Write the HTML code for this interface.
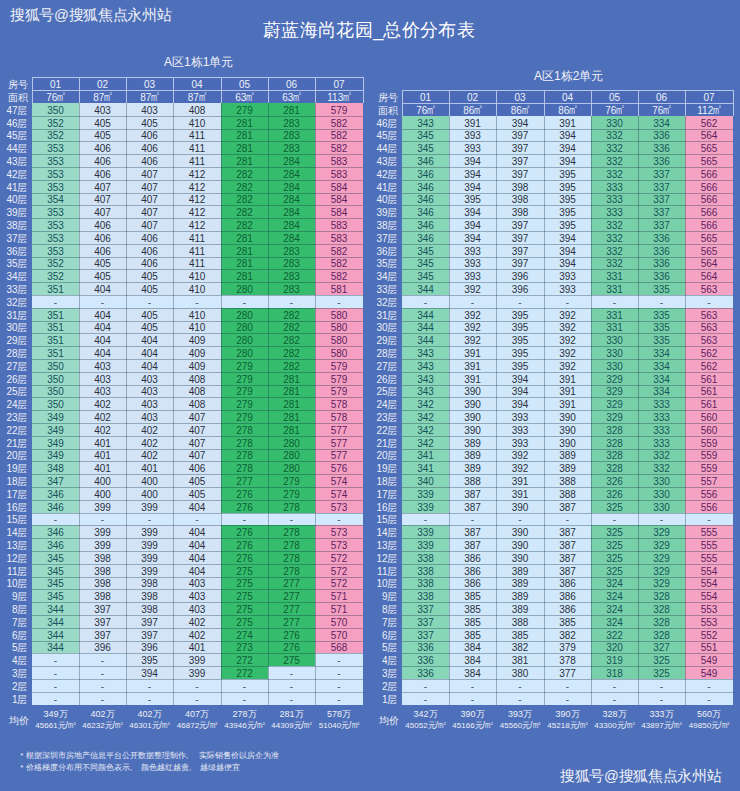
<!DOCTYPE html>
<html><head><meta charset="utf-8"><style>
html,body{margin:0;padding:0;}
body{width:740px;height:791px;overflow:hidden;position:relative;background:#4e6fb9;font-family:"Liberation Sans",sans-serif;}
div{position:absolute;box-sizing:border-box;white-space:nowrap;}
.wm{color:#f0f2f8;font-size:14.5px;}
.title{color:#ffffff;font-size:18.5px;left:0;width:740px;text-align:center;}
.sub{color:#f0f2f8;font-size:11.4px;text-align:center;}
.lab{width:38px;text-align:right;color:#eef1f8;font-size:10px;}
.hdr{background:#4b6ab8;}
.hc{text-align:center;color:#eef2fa;font-size:10px;}
.m2 b,.m3 b{display:inline-block;font-weight:normal;transform:scaleX(0.72);transform-origin:left center;} .m2 b{width:5.5px;} .m3 b{width:5.5px;} .m2 i,.m3 i{font-style:normal;display:inline-block;vertical-align:top;line-height:1;} .m2 i{font-size:6px;margin-left:0px;margin-top:0px} .m3 i{font-size:6px;margin-left:0px;margin-top:0px} .m3{font-size:9px}
.hl{height:1px;background:#b4c4ea;}
.vl{width:1px;background:#b4c4ea;}
.dt{text-align:center;font-size:10px;}
.dhl{height:1px;background:rgba(20,45,70,0.33);}
.dvl{width:1px;background:rgba(20,45,70,0.33);}
.av1{text-align:center;color:#eef1f8;font-size:9px;line-height:1;}
.av2{text-align:center;color:#eef1f8;font-size:8px;line-height:1;}
.avl{width:38px;text-align:right;color:#eef1f8;font-size:10px;line-height:1;}
.cm{display:inline-block;text-align:left;padding-left:0px} .tx{line-height:1;transform-origin:left top;} .note{color:#e8ecf6;font-size:8px;line-height:1;}
</style></head><body>
<div class="tx" style="left:9.8px;top:7.3px;font-size:15px;transform:scale(0.977);color:#f0f2f8">搜狐号@搜狐焦点永州站</div>
<div class="tx" style="left:263.4px;top:21.3px;font-size:18px;transform:scale(1.02);color:#ffffff">蔚蓝海尚花园_总价分布表</div>
<div class="tx" style="left:164px;top:56.3px;font-size:12px;color:#f0f2f8">A区1栋1单元</div>
<div class="tx" style="left:534px;top:69.8px;font-size:12px;color:#f0f2f8">A区1栋2单元</div>
<div class="lab" style="top:78px;left:-10.5px;height:13px;line-height:13px">房号</div>
<div class="lab" style="top:91px;left:-10.5px;height:13px;line-height:13px">面积</div>
<div class="lab" style="top:104px;left:-10.5px;height:13px;line-height:13px">47层</div>
<div class="lab" style="top:117px;left:-10.5px;height:13px;line-height:13px">46层</div>
<div class="lab" style="top:130px;left:-10.5px;height:12px;line-height:12px">45层</div>
<div class="lab" style="top:142px;left:-10.5px;height:13px;line-height:13px">44层</div>
<div class="lab" style="top:155px;left:-10.5px;height:13px;line-height:13px">43层</div>
<div class="lab" style="top:168px;left:-10.5px;height:13px;line-height:13px">42层</div>
<div class="lab" style="top:181px;left:-10.5px;height:13px;line-height:13px">41层</div>
<div class="lab" style="top:194px;left:-10.5px;height:12px;line-height:12px">40层</div>
<div class="lab" style="top:206px;left:-10.5px;height:13px;line-height:13px">39层</div>
<div class="lab" style="top:219px;left:-10.5px;height:13px;line-height:13px">38层</div>
<div class="lab" style="top:232px;left:-10.5px;height:13px;line-height:13px">37层</div>
<div class="lab" style="top:245px;left:-10.5px;height:13px;line-height:13px">36层</div>
<div class="lab" style="top:258px;left:-10.5px;height:12px;line-height:12px">35层</div>
<div class="lab" style="top:270px;left:-10.5px;height:13px;line-height:13px">34层</div>
<div class="lab" style="top:283px;left:-10.5px;height:13px;line-height:13px">33层</div>
<div class="lab" style="top:296px;left:-10.5px;height:13px;line-height:13px">32层</div>
<div class="lab" style="top:309px;left:-10.5px;height:13px;line-height:13px">31层</div>
<div class="lab" style="top:322px;left:-10.5px;height:12px;line-height:12px">30层</div>
<div class="lab" style="top:334px;left:-10.5px;height:13px;line-height:13px">29层</div>
<div class="lab" style="top:347px;left:-10.5px;height:13px;line-height:13px">28层</div>
<div class="lab" style="top:360px;left:-10.5px;height:13px;line-height:13px">27层</div>
<div class="lab" style="top:373px;left:-10.5px;height:13px;line-height:13px">26层</div>
<div class="lab" style="top:386px;left:-10.5px;height:12px;line-height:12px">25层</div>
<div class="lab" style="top:398px;left:-10.5px;height:13px;line-height:13px">24层</div>
<div class="lab" style="top:411px;left:-10.5px;height:13px;line-height:13px">23层</div>
<div class="lab" style="top:424px;left:-10.5px;height:13px;line-height:13px">22层</div>
<div class="lab" style="top:437px;left:-10.5px;height:13px;line-height:13px">21层</div>
<div class="lab" style="top:450px;left:-10.5px;height:12px;line-height:12px">20层</div>
<div class="lab" style="top:462px;left:-10.5px;height:13px;line-height:13px">19层</div>
<div class="lab" style="top:475px;left:-10.5px;height:13px;line-height:13px">18层</div>
<div class="lab" style="top:488px;left:-10.5px;height:13px;line-height:13px">17层</div>
<div class="lab" style="top:501px;left:-10.5px;height:13px;line-height:13px">16层</div>
<div class="lab" style="top:514px;left:-10.5px;height:12px;line-height:12px">15层</div>
<div class="lab" style="top:526px;left:-10.5px;height:13px;line-height:13px">14层</div>
<div class="lab" style="top:539px;left:-10.5px;height:13px;line-height:13px">13层</div>
<div class="lab" style="top:552px;left:-10.5px;height:13px;line-height:13px">12层</div>
<div class="lab" style="top:565px;left:-10.5px;height:13px;line-height:13px">11层</div>
<div class="lab" style="top:578px;left:-10.5px;height:12px;line-height:12px">10层</div>
<div class="lab" style="top:590px;left:-10.5px;height:13px;line-height:13px">9层</div>
<div class="lab" style="top:603px;left:-10.5px;height:13px;line-height:13px">8层</div>
<div class="lab" style="top:616px;left:-10.5px;height:13px;line-height:13px">7层</div>
<div class="lab" style="top:629px;left:-10.5px;height:13px;line-height:13px">6层</div>
<div class="lab" style="top:642px;left:-10.5px;height:12px;line-height:12px">5层</div>
<div class="lab" style="top:654px;left:-10.5px;height:13px;line-height:13px">4层</div>
<div class="lab" style="top:667px;left:-10.5px;height:13px;line-height:13px">3层</div>
<div class="lab" style="top:680px;left:-10.5px;height:13px;line-height:13px">2层</div>
<div class="lab" style="top:693px;left:-10.5px;height:13px;line-height:13px">1层</div>
<div class="hdr" style="left:32px;top:77px;width:331px;height:26px"></div>
<div class="hc" style="left:32px;top:78px;width:47px;height:13px;line-height:13px">01</div>
<div class="hc" style="left:32px;top:91px;width:47px;height:13px;line-height:13px">76<span class="m2"><b>m</b><i>²</i></span></div>
<div class="hc" style="left:79px;top:78px;width:47px;height:13px;line-height:13px">02</div>
<div class="hc" style="left:79px;top:91px;width:47px;height:13px;line-height:13px">87<span class="m2"><b>m</b><i>²</i></span></div>
<div class="hc" style="left:126px;top:78px;width:47px;height:13px;line-height:13px">03</div>
<div class="hc" style="left:126px;top:91px;width:47px;height:13px;line-height:13px">87<span class="m2"><b>m</b><i>²</i></span></div>
<div class="hc" style="left:173px;top:78px;width:48px;height:13px;line-height:13px">04</div>
<div class="hc" style="left:173px;top:91px;width:48px;height:13px;line-height:13px">87<span class="m2"><b>m</b><i>²</i></span></div>
<div class="hc" style="left:221px;top:78px;width:47px;height:13px;line-height:13px">05</div>
<div class="hc" style="left:221px;top:91px;width:47px;height:13px;line-height:13px">63<span class="m2"><b>m</b><i>²</i></span></div>
<div class="hc" style="left:268px;top:78px;width:47px;height:13px;line-height:13px">06</div>
<div class="hc" style="left:268px;top:91px;width:47px;height:13px;line-height:13px">63<span class="m2"><b>m</b><i>²</i></span></div>
<div class="hc" style="left:315px;top:78px;width:48px;height:13px;line-height:13px">07</div>
<div class="hc" style="left:315px;top:91px;width:48px;height:13px;line-height:13px">113<span class="m2"><b>m</b><i>²</i></span></div>
<div class="hl" style="left:32px;top:77px;width:332px"></div>
<div class="hl" style="left:32px;top:90px;width:332px"></div>
<div class="vl" style="left:32px;top:77px;height:26px"></div>
<div class="vl" style="left:79px;top:77px;height:26px"></div>
<div class="vl" style="left:126px;top:77px;height:26px"></div>
<div class="vl" style="left:173px;top:77px;height:26px"></div>
<div class="vl" style="left:221px;top:77px;height:26px"></div>
<div class="vl" style="left:268px;top:77px;height:26px"></div>
<div class="vl" style="left:315px;top:77px;height:26px"></div>
<div class="vl" style="left:363px;top:77px;height:26px"></div>
<div class="dc" style="left:32px;top:103px;width:47px;height:13px;background:#9adac6"></div>
<div class="dt" style="left:32px;top:104px;width:47px;height:13px;line-height:13px;color:#16525a">350</div>
<div class="dc" style="left:79px;top:103px;width:47px;height:13px;background:#d3e4f6"></div>
<div class="dt" style="left:79px;top:104px;width:47px;height:13px;line-height:13px;color:#2a303e">403</div>
<div class="dc" style="left:126px;top:103px;width:47px;height:13px;background:#d3e4f6"></div>
<div class="dt" style="left:126px;top:104px;width:47px;height:13px;line-height:13px;color:#2a303e">403</div>
<div class="dc" style="left:173px;top:103px;width:48px;height:13px;background:#d3e4f6"></div>
<div class="dt" style="left:173px;top:104px;width:48px;height:13px;line-height:13px;color:#2a303e">408</div>
<div class="dc" style="left:221px;top:103px;width:47px;height:13px;background:#35bd6d"></div>
<div class="dt" style="left:221px;top:104px;width:47px;height:13px;line-height:13px;color:#0d5e34">279</div>
<div class="dc" style="left:268px;top:103px;width:47px;height:13px;background:#35bd6d"></div>
<div class="dt" style="left:268px;top:104px;width:47px;height:13px;line-height:13px;color:#0d5e34">281</div>
<div class="dc" style="left:315px;top:103px;width:48px;height:13px;background:#f5a0c0"></div>
<div class="dt" style="left:315px;top:104px;width:48px;height:13px;line-height:13px;color:#5e2262">579</div>
<div class="dc" style="left:32px;top:116px;width:47px;height:13px;background:#9adac6"></div>
<div class="dt" style="left:32px;top:117px;width:47px;height:13px;line-height:13px;color:#16525a">352</div>
<div class="dc" style="left:79px;top:116px;width:47px;height:13px;background:#d3e4f6"></div>
<div class="dt" style="left:79px;top:117px;width:47px;height:13px;line-height:13px;color:#2a303e">405</div>
<div class="dc" style="left:126px;top:116px;width:47px;height:13px;background:#d3e4f6"></div>
<div class="dt" style="left:126px;top:117px;width:47px;height:13px;line-height:13px;color:#2a303e">405</div>
<div class="dc" style="left:173px;top:116px;width:48px;height:13px;background:#d3e4f6"></div>
<div class="dt" style="left:173px;top:117px;width:48px;height:13px;line-height:13px;color:#2a303e">410</div>
<div class="dc" style="left:221px;top:116px;width:47px;height:13px;background:#35bd6d"></div>
<div class="dt" style="left:221px;top:117px;width:47px;height:13px;line-height:13px;color:#0d5e34">281</div>
<div class="dc" style="left:268px;top:116px;width:47px;height:13px;background:#35bd6d"></div>
<div class="dt" style="left:268px;top:117px;width:47px;height:13px;line-height:13px;color:#0d5e34">283</div>
<div class="dc" style="left:315px;top:116px;width:48px;height:13px;background:#f5a0c0"></div>
<div class="dt" style="left:315px;top:117px;width:48px;height:13px;line-height:13px;color:#5e2262">582</div>
<div class="dc" style="left:32px;top:129px;width:47px;height:12px;background:#9adac6"></div>
<div class="dt" style="left:32px;top:130px;width:47px;height:12px;line-height:12px;color:#16525a">352</div>
<div class="dc" style="left:79px;top:129px;width:47px;height:12px;background:#d3e4f6"></div>
<div class="dt" style="left:79px;top:130px;width:47px;height:12px;line-height:12px;color:#2a303e">405</div>
<div class="dc" style="left:126px;top:129px;width:47px;height:12px;background:#d3e4f6"></div>
<div class="dt" style="left:126px;top:130px;width:47px;height:12px;line-height:12px;color:#2a303e">406</div>
<div class="dc" style="left:173px;top:129px;width:48px;height:12px;background:#d3e4f6"></div>
<div class="dt" style="left:173px;top:130px;width:48px;height:12px;line-height:12px;color:#2a303e">411</div>
<div class="dc" style="left:221px;top:129px;width:47px;height:12px;background:#35bd6d"></div>
<div class="dt" style="left:221px;top:130px;width:47px;height:12px;line-height:12px;color:#0d5e34">281</div>
<div class="dc" style="left:268px;top:129px;width:47px;height:12px;background:#35bd6d"></div>
<div class="dt" style="left:268px;top:130px;width:47px;height:12px;line-height:12px;color:#0d5e34">283</div>
<div class="dc" style="left:315px;top:129px;width:48px;height:12px;background:#f5a0c0"></div>
<div class="dt" style="left:315px;top:130px;width:48px;height:12px;line-height:12px;color:#5e2262">582</div>
<div class="dc" style="left:32px;top:141px;width:47px;height:13px;background:#9adac6"></div>
<div class="dt" style="left:32px;top:142px;width:47px;height:13px;line-height:13px;color:#16525a">353</div>
<div class="dc" style="left:79px;top:141px;width:47px;height:13px;background:#d3e4f6"></div>
<div class="dt" style="left:79px;top:142px;width:47px;height:13px;line-height:13px;color:#2a303e">406</div>
<div class="dc" style="left:126px;top:141px;width:47px;height:13px;background:#d3e4f6"></div>
<div class="dt" style="left:126px;top:142px;width:47px;height:13px;line-height:13px;color:#2a303e">406</div>
<div class="dc" style="left:173px;top:141px;width:48px;height:13px;background:#d3e4f6"></div>
<div class="dt" style="left:173px;top:142px;width:48px;height:13px;line-height:13px;color:#2a303e">411</div>
<div class="dc" style="left:221px;top:141px;width:47px;height:13px;background:#35bd6d"></div>
<div class="dt" style="left:221px;top:142px;width:47px;height:13px;line-height:13px;color:#0d5e34">281</div>
<div class="dc" style="left:268px;top:141px;width:47px;height:13px;background:#35bd6d"></div>
<div class="dt" style="left:268px;top:142px;width:47px;height:13px;line-height:13px;color:#0d5e34">283</div>
<div class="dc" style="left:315px;top:141px;width:48px;height:13px;background:#f5a0c0"></div>
<div class="dt" style="left:315px;top:142px;width:48px;height:13px;line-height:13px;color:#5e2262">582</div>
<div class="dc" style="left:32px;top:154px;width:47px;height:13px;background:#9adac6"></div>
<div class="dt" style="left:32px;top:155px;width:47px;height:13px;line-height:13px;color:#16525a">353</div>
<div class="dc" style="left:79px;top:154px;width:47px;height:13px;background:#d3e4f6"></div>
<div class="dt" style="left:79px;top:155px;width:47px;height:13px;line-height:13px;color:#2a303e">406</div>
<div class="dc" style="left:126px;top:154px;width:47px;height:13px;background:#d3e4f6"></div>
<div class="dt" style="left:126px;top:155px;width:47px;height:13px;line-height:13px;color:#2a303e">406</div>
<div class="dc" style="left:173px;top:154px;width:48px;height:13px;background:#d3e4f6"></div>
<div class="dt" style="left:173px;top:155px;width:48px;height:13px;line-height:13px;color:#2a303e">411</div>
<div class="dc" style="left:221px;top:154px;width:47px;height:13px;background:#35bd6d"></div>
<div class="dt" style="left:221px;top:155px;width:47px;height:13px;line-height:13px;color:#0d5e34">281</div>
<div class="dc" style="left:268px;top:154px;width:47px;height:13px;background:#35bd6d"></div>
<div class="dt" style="left:268px;top:155px;width:47px;height:13px;line-height:13px;color:#0d5e34">284</div>
<div class="dc" style="left:315px;top:154px;width:48px;height:13px;background:#f5a0c0"></div>
<div class="dt" style="left:315px;top:155px;width:48px;height:13px;line-height:13px;color:#5e2262">583</div>
<div class="dc" style="left:32px;top:167px;width:47px;height:13px;background:#9adac6"></div>
<div class="dt" style="left:32px;top:168px;width:47px;height:13px;line-height:13px;color:#16525a">353</div>
<div class="dc" style="left:79px;top:167px;width:47px;height:13px;background:#d3e4f6"></div>
<div class="dt" style="left:79px;top:168px;width:47px;height:13px;line-height:13px;color:#2a303e">406</div>
<div class="dc" style="left:126px;top:167px;width:47px;height:13px;background:#d3e4f6"></div>
<div class="dt" style="left:126px;top:168px;width:47px;height:13px;line-height:13px;color:#2a303e">407</div>
<div class="dc" style="left:173px;top:167px;width:48px;height:13px;background:#d3e4f6"></div>
<div class="dt" style="left:173px;top:168px;width:48px;height:13px;line-height:13px;color:#2a303e">412</div>
<div class="dc" style="left:221px;top:167px;width:47px;height:13px;background:#35bd6d"></div>
<div class="dt" style="left:221px;top:168px;width:47px;height:13px;line-height:13px;color:#0d5e34">282</div>
<div class="dc" style="left:268px;top:167px;width:47px;height:13px;background:#35bd6d"></div>
<div class="dt" style="left:268px;top:168px;width:47px;height:13px;line-height:13px;color:#0d5e34">284</div>
<div class="dc" style="left:315px;top:167px;width:48px;height:13px;background:#f5a0c0"></div>
<div class="dt" style="left:315px;top:168px;width:48px;height:13px;line-height:13px;color:#5e2262">583</div>
<div class="dc" style="left:32px;top:180px;width:47px;height:13px;background:#9adac6"></div>
<div class="dt" style="left:32px;top:181px;width:47px;height:13px;line-height:13px;color:#16525a">353</div>
<div class="dc" style="left:79px;top:180px;width:47px;height:13px;background:#d3e4f6"></div>
<div class="dt" style="left:79px;top:181px;width:47px;height:13px;line-height:13px;color:#2a303e">407</div>
<div class="dc" style="left:126px;top:180px;width:47px;height:13px;background:#d3e4f6"></div>
<div class="dt" style="left:126px;top:181px;width:47px;height:13px;line-height:13px;color:#2a303e">407</div>
<div class="dc" style="left:173px;top:180px;width:48px;height:13px;background:#d3e4f6"></div>
<div class="dt" style="left:173px;top:181px;width:48px;height:13px;line-height:13px;color:#2a303e">412</div>
<div class="dc" style="left:221px;top:180px;width:47px;height:13px;background:#35bd6d"></div>
<div class="dt" style="left:221px;top:181px;width:47px;height:13px;line-height:13px;color:#0d5e34">282</div>
<div class="dc" style="left:268px;top:180px;width:47px;height:13px;background:#35bd6d"></div>
<div class="dt" style="left:268px;top:181px;width:47px;height:13px;line-height:13px;color:#0d5e34">284</div>
<div class="dc" style="left:315px;top:180px;width:48px;height:13px;background:#f5a0c0"></div>
<div class="dt" style="left:315px;top:181px;width:48px;height:13px;line-height:13px;color:#5e2262">584</div>
<div class="dc" style="left:32px;top:193px;width:47px;height:12px;background:#9adac6"></div>
<div class="dt" style="left:32px;top:194px;width:47px;height:12px;line-height:12px;color:#16525a">354</div>
<div class="dc" style="left:79px;top:193px;width:47px;height:12px;background:#d3e4f6"></div>
<div class="dt" style="left:79px;top:194px;width:47px;height:12px;line-height:12px;color:#2a303e">407</div>
<div class="dc" style="left:126px;top:193px;width:47px;height:12px;background:#d3e4f6"></div>
<div class="dt" style="left:126px;top:194px;width:47px;height:12px;line-height:12px;color:#2a303e">407</div>
<div class="dc" style="left:173px;top:193px;width:48px;height:12px;background:#d3e4f6"></div>
<div class="dt" style="left:173px;top:194px;width:48px;height:12px;line-height:12px;color:#2a303e">412</div>
<div class="dc" style="left:221px;top:193px;width:47px;height:12px;background:#35bd6d"></div>
<div class="dt" style="left:221px;top:194px;width:47px;height:12px;line-height:12px;color:#0d5e34">282</div>
<div class="dc" style="left:268px;top:193px;width:47px;height:12px;background:#35bd6d"></div>
<div class="dt" style="left:268px;top:194px;width:47px;height:12px;line-height:12px;color:#0d5e34">284</div>
<div class="dc" style="left:315px;top:193px;width:48px;height:12px;background:#f5a0c0"></div>
<div class="dt" style="left:315px;top:194px;width:48px;height:12px;line-height:12px;color:#5e2262">584</div>
<div class="dc" style="left:32px;top:205px;width:47px;height:13px;background:#9adac6"></div>
<div class="dt" style="left:32px;top:206px;width:47px;height:13px;line-height:13px;color:#16525a">353</div>
<div class="dc" style="left:79px;top:205px;width:47px;height:13px;background:#d3e4f6"></div>
<div class="dt" style="left:79px;top:206px;width:47px;height:13px;line-height:13px;color:#2a303e">407</div>
<div class="dc" style="left:126px;top:205px;width:47px;height:13px;background:#d3e4f6"></div>
<div class="dt" style="left:126px;top:206px;width:47px;height:13px;line-height:13px;color:#2a303e">407</div>
<div class="dc" style="left:173px;top:205px;width:48px;height:13px;background:#d3e4f6"></div>
<div class="dt" style="left:173px;top:206px;width:48px;height:13px;line-height:13px;color:#2a303e">412</div>
<div class="dc" style="left:221px;top:205px;width:47px;height:13px;background:#35bd6d"></div>
<div class="dt" style="left:221px;top:206px;width:47px;height:13px;line-height:13px;color:#0d5e34">282</div>
<div class="dc" style="left:268px;top:205px;width:47px;height:13px;background:#35bd6d"></div>
<div class="dt" style="left:268px;top:206px;width:47px;height:13px;line-height:13px;color:#0d5e34">284</div>
<div class="dc" style="left:315px;top:205px;width:48px;height:13px;background:#f5a0c0"></div>
<div class="dt" style="left:315px;top:206px;width:48px;height:13px;line-height:13px;color:#5e2262">584</div>
<div class="dc" style="left:32px;top:218px;width:47px;height:13px;background:#9adac6"></div>
<div class="dt" style="left:32px;top:219px;width:47px;height:13px;line-height:13px;color:#16525a">353</div>
<div class="dc" style="left:79px;top:218px;width:47px;height:13px;background:#d3e4f6"></div>
<div class="dt" style="left:79px;top:219px;width:47px;height:13px;line-height:13px;color:#2a303e">406</div>
<div class="dc" style="left:126px;top:218px;width:47px;height:13px;background:#d3e4f6"></div>
<div class="dt" style="left:126px;top:219px;width:47px;height:13px;line-height:13px;color:#2a303e">407</div>
<div class="dc" style="left:173px;top:218px;width:48px;height:13px;background:#d3e4f6"></div>
<div class="dt" style="left:173px;top:219px;width:48px;height:13px;line-height:13px;color:#2a303e">412</div>
<div class="dc" style="left:221px;top:218px;width:47px;height:13px;background:#35bd6d"></div>
<div class="dt" style="left:221px;top:219px;width:47px;height:13px;line-height:13px;color:#0d5e34">282</div>
<div class="dc" style="left:268px;top:218px;width:47px;height:13px;background:#35bd6d"></div>
<div class="dt" style="left:268px;top:219px;width:47px;height:13px;line-height:13px;color:#0d5e34">284</div>
<div class="dc" style="left:315px;top:218px;width:48px;height:13px;background:#f5a0c0"></div>
<div class="dt" style="left:315px;top:219px;width:48px;height:13px;line-height:13px;color:#5e2262">583</div>
<div class="dc" style="left:32px;top:231px;width:47px;height:13px;background:#9adac6"></div>
<div class="dt" style="left:32px;top:232px;width:47px;height:13px;line-height:13px;color:#16525a">353</div>
<div class="dc" style="left:79px;top:231px;width:47px;height:13px;background:#d3e4f6"></div>
<div class="dt" style="left:79px;top:232px;width:47px;height:13px;line-height:13px;color:#2a303e">406</div>
<div class="dc" style="left:126px;top:231px;width:47px;height:13px;background:#d3e4f6"></div>
<div class="dt" style="left:126px;top:232px;width:47px;height:13px;line-height:13px;color:#2a303e">406</div>
<div class="dc" style="left:173px;top:231px;width:48px;height:13px;background:#d3e4f6"></div>
<div class="dt" style="left:173px;top:232px;width:48px;height:13px;line-height:13px;color:#2a303e">411</div>
<div class="dc" style="left:221px;top:231px;width:47px;height:13px;background:#35bd6d"></div>
<div class="dt" style="left:221px;top:232px;width:47px;height:13px;line-height:13px;color:#0d5e34">281</div>
<div class="dc" style="left:268px;top:231px;width:47px;height:13px;background:#35bd6d"></div>
<div class="dt" style="left:268px;top:232px;width:47px;height:13px;line-height:13px;color:#0d5e34">284</div>
<div class="dc" style="left:315px;top:231px;width:48px;height:13px;background:#f5a0c0"></div>
<div class="dt" style="left:315px;top:232px;width:48px;height:13px;line-height:13px;color:#5e2262">583</div>
<div class="dc" style="left:32px;top:244px;width:47px;height:13px;background:#9adac6"></div>
<div class="dt" style="left:32px;top:245px;width:47px;height:13px;line-height:13px;color:#16525a">353</div>
<div class="dc" style="left:79px;top:244px;width:47px;height:13px;background:#d3e4f6"></div>
<div class="dt" style="left:79px;top:245px;width:47px;height:13px;line-height:13px;color:#2a303e">406</div>
<div class="dc" style="left:126px;top:244px;width:47px;height:13px;background:#d3e4f6"></div>
<div class="dt" style="left:126px;top:245px;width:47px;height:13px;line-height:13px;color:#2a303e">406</div>
<div class="dc" style="left:173px;top:244px;width:48px;height:13px;background:#d3e4f6"></div>
<div class="dt" style="left:173px;top:245px;width:48px;height:13px;line-height:13px;color:#2a303e">411</div>
<div class="dc" style="left:221px;top:244px;width:47px;height:13px;background:#35bd6d"></div>
<div class="dt" style="left:221px;top:245px;width:47px;height:13px;line-height:13px;color:#0d5e34">281</div>
<div class="dc" style="left:268px;top:244px;width:47px;height:13px;background:#35bd6d"></div>
<div class="dt" style="left:268px;top:245px;width:47px;height:13px;line-height:13px;color:#0d5e34">283</div>
<div class="dc" style="left:315px;top:244px;width:48px;height:13px;background:#f5a0c0"></div>
<div class="dt" style="left:315px;top:245px;width:48px;height:13px;line-height:13px;color:#5e2262">582</div>
<div class="dc" style="left:32px;top:257px;width:47px;height:12px;background:#9adac6"></div>
<div class="dt" style="left:32px;top:258px;width:47px;height:12px;line-height:12px;color:#16525a">352</div>
<div class="dc" style="left:79px;top:257px;width:47px;height:12px;background:#d3e4f6"></div>
<div class="dt" style="left:79px;top:258px;width:47px;height:12px;line-height:12px;color:#2a303e">405</div>
<div class="dc" style="left:126px;top:257px;width:47px;height:12px;background:#d3e4f6"></div>
<div class="dt" style="left:126px;top:258px;width:47px;height:12px;line-height:12px;color:#2a303e">406</div>
<div class="dc" style="left:173px;top:257px;width:48px;height:12px;background:#d3e4f6"></div>
<div class="dt" style="left:173px;top:258px;width:48px;height:12px;line-height:12px;color:#2a303e">411</div>
<div class="dc" style="left:221px;top:257px;width:47px;height:12px;background:#35bd6d"></div>
<div class="dt" style="left:221px;top:258px;width:47px;height:12px;line-height:12px;color:#0d5e34">281</div>
<div class="dc" style="left:268px;top:257px;width:47px;height:12px;background:#35bd6d"></div>
<div class="dt" style="left:268px;top:258px;width:47px;height:12px;line-height:12px;color:#0d5e34">283</div>
<div class="dc" style="left:315px;top:257px;width:48px;height:12px;background:#f5a0c0"></div>
<div class="dt" style="left:315px;top:258px;width:48px;height:12px;line-height:12px;color:#5e2262">582</div>
<div class="dc" style="left:32px;top:269px;width:47px;height:13px;background:#9adac6"></div>
<div class="dt" style="left:32px;top:270px;width:47px;height:13px;line-height:13px;color:#16525a">352</div>
<div class="dc" style="left:79px;top:269px;width:47px;height:13px;background:#d3e4f6"></div>
<div class="dt" style="left:79px;top:270px;width:47px;height:13px;line-height:13px;color:#2a303e">405</div>
<div class="dc" style="left:126px;top:269px;width:47px;height:13px;background:#d3e4f6"></div>
<div class="dt" style="left:126px;top:270px;width:47px;height:13px;line-height:13px;color:#2a303e">405</div>
<div class="dc" style="left:173px;top:269px;width:48px;height:13px;background:#d3e4f6"></div>
<div class="dt" style="left:173px;top:270px;width:48px;height:13px;line-height:13px;color:#2a303e">410</div>
<div class="dc" style="left:221px;top:269px;width:47px;height:13px;background:#35bd6d"></div>
<div class="dt" style="left:221px;top:270px;width:47px;height:13px;line-height:13px;color:#0d5e34">281</div>
<div class="dc" style="left:268px;top:269px;width:47px;height:13px;background:#35bd6d"></div>
<div class="dt" style="left:268px;top:270px;width:47px;height:13px;line-height:13px;color:#0d5e34">283</div>
<div class="dc" style="left:315px;top:269px;width:48px;height:13px;background:#f5a0c0"></div>
<div class="dt" style="left:315px;top:270px;width:48px;height:13px;line-height:13px;color:#5e2262">582</div>
<div class="dc" style="left:32px;top:282px;width:47px;height:13px;background:#9adac6"></div>
<div class="dt" style="left:32px;top:283px;width:47px;height:13px;line-height:13px;color:#16525a">351</div>
<div class="dc" style="left:79px;top:282px;width:47px;height:13px;background:#d3e4f6"></div>
<div class="dt" style="left:79px;top:283px;width:47px;height:13px;line-height:13px;color:#2a303e">404</div>
<div class="dc" style="left:126px;top:282px;width:47px;height:13px;background:#d3e4f6"></div>
<div class="dt" style="left:126px;top:283px;width:47px;height:13px;line-height:13px;color:#2a303e">405</div>
<div class="dc" style="left:173px;top:282px;width:48px;height:13px;background:#d3e4f6"></div>
<div class="dt" style="left:173px;top:283px;width:48px;height:13px;line-height:13px;color:#2a303e">410</div>
<div class="dc" style="left:221px;top:282px;width:47px;height:13px;background:#35bd6d"></div>
<div class="dt" style="left:221px;top:283px;width:47px;height:13px;line-height:13px;color:#0d5e34">280</div>
<div class="dc" style="left:268px;top:282px;width:47px;height:13px;background:#35bd6d"></div>
<div class="dt" style="left:268px;top:283px;width:47px;height:13px;line-height:13px;color:#0d5e34">283</div>
<div class="dc" style="left:315px;top:282px;width:48px;height:13px;background:#f5a0c0"></div>
<div class="dt" style="left:315px;top:283px;width:48px;height:13px;line-height:13px;color:#5e2262">581</div>
<div class="dc" style="left:32px;top:295px;width:47px;height:13px;background:#d2e8fc"></div>
<div class="dt" style="left:32px;top:296px;width:47px;height:13px;line-height:13px;color:#4a5264">-</div>
<div class="dc" style="left:79px;top:295px;width:47px;height:13px;background:#d2e8fc"></div>
<div class="dt" style="left:79px;top:296px;width:47px;height:13px;line-height:13px;color:#4a5264">-</div>
<div class="dc" style="left:126px;top:295px;width:47px;height:13px;background:#d2e8fc"></div>
<div class="dt" style="left:126px;top:296px;width:47px;height:13px;line-height:13px;color:#4a5264">-</div>
<div class="dc" style="left:173px;top:295px;width:48px;height:13px;background:#d2e8fc"></div>
<div class="dt" style="left:173px;top:296px;width:48px;height:13px;line-height:13px;color:#4a5264">-</div>
<div class="dc" style="left:221px;top:295px;width:47px;height:13px;background:#d2e8fc"></div>
<div class="dt" style="left:221px;top:296px;width:47px;height:13px;line-height:13px;color:#4a5264">-</div>
<div class="dc" style="left:268px;top:295px;width:47px;height:13px;background:#d2e8fc"></div>
<div class="dt" style="left:268px;top:296px;width:47px;height:13px;line-height:13px;color:#4a5264">-</div>
<div class="dc" style="left:315px;top:295px;width:48px;height:13px;background:#d2e8fc"></div>
<div class="dt" style="left:315px;top:296px;width:48px;height:13px;line-height:13px;color:#4a5264">-</div>
<div class="dc" style="left:32px;top:308px;width:47px;height:13px;background:#9adac6"></div>
<div class="dt" style="left:32px;top:309px;width:47px;height:13px;line-height:13px;color:#16525a">351</div>
<div class="dc" style="left:79px;top:308px;width:47px;height:13px;background:#d3e4f6"></div>
<div class="dt" style="left:79px;top:309px;width:47px;height:13px;line-height:13px;color:#2a303e">404</div>
<div class="dc" style="left:126px;top:308px;width:47px;height:13px;background:#d3e4f6"></div>
<div class="dt" style="left:126px;top:309px;width:47px;height:13px;line-height:13px;color:#2a303e">405</div>
<div class="dc" style="left:173px;top:308px;width:48px;height:13px;background:#d3e4f6"></div>
<div class="dt" style="left:173px;top:309px;width:48px;height:13px;line-height:13px;color:#2a303e">410</div>
<div class="dc" style="left:221px;top:308px;width:47px;height:13px;background:#35bd6d"></div>
<div class="dt" style="left:221px;top:309px;width:47px;height:13px;line-height:13px;color:#0d5e34">280</div>
<div class="dc" style="left:268px;top:308px;width:47px;height:13px;background:#35bd6d"></div>
<div class="dt" style="left:268px;top:309px;width:47px;height:13px;line-height:13px;color:#0d5e34">282</div>
<div class="dc" style="left:315px;top:308px;width:48px;height:13px;background:#f5a0c0"></div>
<div class="dt" style="left:315px;top:309px;width:48px;height:13px;line-height:13px;color:#5e2262">580</div>
<div class="dc" style="left:32px;top:321px;width:47px;height:12px;background:#9adac6"></div>
<div class="dt" style="left:32px;top:322px;width:47px;height:12px;line-height:12px;color:#16525a">351</div>
<div class="dc" style="left:79px;top:321px;width:47px;height:12px;background:#d3e4f6"></div>
<div class="dt" style="left:79px;top:322px;width:47px;height:12px;line-height:12px;color:#2a303e">404</div>
<div class="dc" style="left:126px;top:321px;width:47px;height:12px;background:#d3e4f6"></div>
<div class="dt" style="left:126px;top:322px;width:47px;height:12px;line-height:12px;color:#2a303e">405</div>
<div class="dc" style="left:173px;top:321px;width:48px;height:12px;background:#d3e4f6"></div>
<div class="dt" style="left:173px;top:322px;width:48px;height:12px;line-height:12px;color:#2a303e">410</div>
<div class="dc" style="left:221px;top:321px;width:47px;height:12px;background:#35bd6d"></div>
<div class="dt" style="left:221px;top:322px;width:47px;height:12px;line-height:12px;color:#0d5e34">280</div>
<div class="dc" style="left:268px;top:321px;width:47px;height:12px;background:#35bd6d"></div>
<div class="dt" style="left:268px;top:322px;width:47px;height:12px;line-height:12px;color:#0d5e34">282</div>
<div class="dc" style="left:315px;top:321px;width:48px;height:12px;background:#f5a0c0"></div>
<div class="dt" style="left:315px;top:322px;width:48px;height:12px;line-height:12px;color:#5e2262">580</div>
<div class="dc" style="left:32px;top:333px;width:47px;height:13px;background:#9adac6"></div>
<div class="dt" style="left:32px;top:334px;width:47px;height:13px;line-height:13px;color:#16525a">351</div>
<div class="dc" style="left:79px;top:333px;width:47px;height:13px;background:#d3e4f6"></div>
<div class="dt" style="left:79px;top:334px;width:47px;height:13px;line-height:13px;color:#2a303e">404</div>
<div class="dc" style="left:126px;top:333px;width:47px;height:13px;background:#d3e4f6"></div>
<div class="dt" style="left:126px;top:334px;width:47px;height:13px;line-height:13px;color:#2a303e">404</div>
<div class="dc" style="left:173px;top:333px;width:48px;height:13px;background:#d3e4f6"></div>
<div class="dt" style="left:173px;top:334px;width:48px;height:13px;line-height:13px;color:#2a303e">409</div>
<div class="dc" style="left:221px;top:333px;width:47px;height:13px;background:#35bd6d"></div>
<div class="dt" style="left:221px;top:334px;width:47px;height:13px;line-height:13px;color:#0d5e34">280</div>
<div class="dc" style="left:268px;top:333px;width:47px;height:13px;background:#35bd6d"></div>
<div class="dt" style="left:268px;top:334px;width:47px;height:13px;line-height:13px;color:#0d5e34">282</div>
<div class="dc" style="left:315px;top:333px;width:48px;height:13px;background:#f5a0c0"></div>
<div class="dt" style="left:315px;top:334px;width:48px;height:13px;line-height:13px;color:#5e2262">580</div>
<div class="dc" style="left:32px;top:346px;width:47px;height:13px;background:#9adac6"></div>
<div class="dt" style="left:32px;top:347px;width:47px;height:13px;line-height:13px;color:#16525a">351</div>
<div class="dc" style="left:79px;top:346px;width:47px;height:13px;background:#d3e4f6"></div>
<div class="dt" style="left:79px;top:347px;width:47px;height:13px;line-height:13px;color:#2a303e">404</div>
<div class="dc" style="left:126px;top:346px;width:47px;height:13px;background:#d3e4f6"></div>
<div class="dt" style="left:126px;top:347px;width:47px;height:13px;line-height:13px;color:#2a303e">404</div>
<div class="dc" style="left:173px;top:346px;width:48px;height:13px;background:#d3e4f6"></div>
<div class="dt" style="left:173px;top:347px;width:48px;height:13px;line-height:13px;color:#2a303e">409</div>
<div class="dc" style="left:221px;top:346px;width:47px;height:13px;background:#35bd6d"></div>
<div class="dt" style="left:221px;top:347px;width:47px;height:13px;line-height:13px;color:#0d5e34">280</div>
<div class="dc" style="left:268px;top:346px;width:47px;height:13px;background:#35bd6d"></div>
<div class="dt" style="left:268px;top:347px;width:47px;height:13px;line-height:13px;color:#0d5e34">282</div>
<div class="dc" style="left:315px;top:346px;width:48px;height:13px;background:#f5a0c0"></div>
<div class="dt" style="left:315px;top:347px;width:48px;height:13px;line-height:13px;color:#5e2262">580</div>
<div class="dc" style="left:32px;top:359px;width:47px;height:13px;background:#9adac6"></div>
<div class="dt" style="left:32px;top:360px;width:47px;height:13px;line-height:13px;color:#16525a">350</div>
<div class="dc" style="left:79px;top:359px;width:47px;height:13px;background:#d3e4f6"></div>
<div class="dt" style="left:79px;top:360px;width:47px;height:13px;line-height:13px;color:#2a303e">403</div>
<div class="dc" style="left:126px;top:359px;width:47px;height:13px;background:#d3e4f6"></div>
<div class="dt" style="left:126px;top:360px;width:47px;height:13px;line-height:13px;color:#2a303e">404</div>
<div class="dc" style="left:173px;top:359px;width:48px;height:13px;background:#d3e4f6"></div>
<div class="dt" style="left:173px;top:360px;width:48px;height:13px;line-height:13px;color:#2a303e">409</div>
<div class="dc" style="left:221px;top:359px;width:47px;height:13px;background:#35bd6d"></div>
<div class="dt" style="left:221px;top:360px;width:47px;height:13px;line-height:13px;color:#0d5e34">279</div>
<div class="dc" style="left:268px;top:359px;width:47px;height:13px;background:#35bd6d"></div>
<div class="dt" style="left:268px;top:360px;width:47px;height:13px;line-height:13px;color:#0d5e34">282</div>
<div class="dc" style="left:315px;top:359px;width:48px;height:13px;background:#f5a0c0"></div>
<div class="dt" style="left:315px;top:360px;width:48px;height:13px;line-height:13px;color:#5e2262">579</div>
<div class="dc" style="left:32px;top:372px;width:47px;height:13px;background:#9adac6"></div>
<div class="dt" style="left:32px;top:373px;width:47px;height:13px;line-height:13px;color:#16525a">350</div>
<div class="dc" style="left:79px;top:372px;width:47px;height:13px;background:#d3e4f6"></div>
<div class="dt" style="left:79px;top:373px;width:47px;height:13px;line-height:13px;color:#2a303e">403</div>
<div class="dc" style="left:126px;top:372px;width:47px;height:13px;background:#d3e4f6"></div>
<div class="dt" style="left:126px;top:373px;width:47px;height:13px;line-height:13px;color:#2a303e">403</div>
<div class="dc" style="left:173px;top:372px;width:48px;height:13px;background:#d3e4f6"></div>
<div class="dt" style="left:173px;top:373px;width:48px;height:13px;line-height:13px;color:#2a303e">408</div>
<div class="dc" style="left:221px;top:372px;width:47px;height:13px;background:#35bd6d"></div>
<div class="dt" style="left:221px;top:373px;width:47px;height:13px;line-height:13px;color:#0d5e34">279</div>
<div class="dc" style="left:268px;top:372px;width:47px;height:13px;background:#35bd6d"></div>
<div class="dt" style="left:268px;top:373px;width:47px;height:13px;line-height:13px;color:#0d5e34">281</div>
<div class="dc" style="left:315px;top:372px;width:48px;height:13px;background:#f5a0c0"></div>
<div class="dt" style="left:315px;top:373px;width:48px;height:13px;line-height:13px;color:#5e2262">579</div>
<div class="dc" style="left:32px;top:385px;width:47px;height:12px;background:#9adac6"></div>
<div class="dt" style="left:32px;top:386px;width:47px;height:12px;line-height:12px;color:#16525a">350</div>
<div class="dc" style="left:79px;top:385px;width:47px;height:12px;background:#d3e4f6"></div>
<div class="dt" style="left:79px;top:386px;width:47px;height:12px;line-height:12px;color:#2a303e">403</div>
<div class="dc" style="left:126px;top:385px;width:47px;height:12px;background:#d3e4f6"></div>
<div class="dt" style="left:126px;top:386px;width:47px;height:12px;line-height:12px;color:#2a303e">403</div>
<div class="dc" style="left:173px;top:385px;width:48px;height:12px;background:#d3e4f6"></div>
<div class="dt" style="left:173px;top:386px;width:48px;height:12px;line-height:12px;color:#2a303e">408</div>
<div class="dc" style="left:221px;top:385px;width:47px;height:12px;background:#35bd6d"></div>
<div class="dt" style="left:221px;top:386px;width:47px;height:12px;line-height:12px;color:#0d5e34">279</div>
<div class="dc" style="left:268px;top:385px;width:47px;height:12px;background:#35bd6d"></div>
<div class="dt" style="left:268px;top:386px;width:47px;height:12px;line-height:12px;color:#0d5e34">281</div>
<div class="dc" style="left:315px;top:385px;width:48px;height:12px;background:#f5a0c0"></div>
<div class="dt" style="left:315px;top:386px;width:48px;height:12px;line-height:12px;color:#5e2262">579</div>
<div class="dc" style="left:32px;top:397px;width:47px;height:13px;background:#9adac6"></div>
<div class="dt" style="left:32px;top:398px;width:47px;height:13px;line-height:13px;color:#16525a">350</div>
<div class="dc" style="left:79px;top:397px;width:47px;height:13px;background:#d3e4f6"></div>
<div class="dt" style="left:79px;top:398px;width:47px;height:13px;line-height:13px;color:#2a303e">402</div>
<div class="dc" style="left:126px;top:397px;width:47px;height:13px;background:#d3e4f6"></div>
<div class="dt" style="left:126px;top:398px;width:47px;height:13px;line-height:13px;color:#2a303e">403</div>
<div class="dc" style="left:173px;top:397px;width:48px;height:13px;background:#d3e4f6"></div>
<div class="dt" style="left:173px;top:398px;width:48px;height:13px;line-height:13px;color:#2a303e">408</div>
<div class="dc" style="left:221px;top:397px;width:47px;height:13px;background:#35bd6d"></div>
<div class="dt" style="left:221px;top:398px;width:47px;height:13px;line-height:13px;color:#0d5e34">279</div>
<div class="dc" style="left:268px;top:397px;width:47px;height:13px;background:#35bd6d"></div>
<div class="dt" style="left:268px;top:398px;width:47px;height:13px;line-height:13px;color:#0d5e34">281</div>
<div class="dc" style="left:315px;top:397px;width:48px;height:13px;background:#f5a0c0"></div>
<div class="dt" style="left:315px;top:398px;width:48px;height:13px;line-height:13px;color:#5e2262">578</div>
<div class="dc" style="left:32px;top:410px;width:47px;height:13px;background:#9adac6"></div>
<div class="dt" style="left:32px;top:411px;width:47px;height:13px;line-height:13px;color:#16525a">349</div>
<div class="dc" style="left:79px;top:410px;width:47px;height:13px;background:#d3e4f6"></div>
<div class="dt" style="left:79px;top:411px;width:47px;height:13px;line-height:13px;color:#2a303e">402</div>
<div class="dc" style="left:126px;top:410px;width:47px;height:13px;background:#d3e4f6"></div>
<div class="dt" style="left:126px;top:411px;width:47px;height:13px;line-height:13px;color:#2a303e">403</div>
<div class="dc" style="left:173px;top:410px;width:48px;height:13px;background:#d3e4f6"></div>
<div class="dt" style="left:173px;top:411px;width:48px;height:13px;line-height:13px;color:#2a303e">407</div>
<div class="dc" style="left:221px;top:410px;width:47px;height:13px;background:#35bd6d"></div>
<div class="dt" style="left:221px;top:411px;width:47px;height:13px;line-height:13px;color:#0d5e34">279</div>
<div class="dc" style="left:268px;top:410px;width:47px;height:13px;background:#35bd6d"></div>
<div class="dt" style="left:268px;top:411px;width:47px;height:13px;line-height:13px;color:#0d5e34">281</div>
<div class="dc" style="left:315px;top:410px;width:48px;height:13px;background:#f5a0c0"></div>
<div class="dt" style="left:315px;top:411px;width:48px;height:13px;line-height:13px;color:#5e2262">578</div>
<div class="dc" style="left:32px;top:423px;width:47px;height:13px;background:#9adac6"></div>
<div class="dt" style="left:32px;top:424px;width:47px;height:13px;line-height:13px;color:#16525a">349</div>
<div class="dc" style="left:79px;top:423px;width:47px;height:13px;background:#d3e4f6"></div>
<div class="dt" style="left:79px;top:424px;width:47px;height:13px;line-height:13px;color:#2a303e">402</div>
<div class="dc" style="left:126px;top:423px;width:47px;height:13px;background:#d3e4f6"></div>
<div class="dt" style="left:126px;top:424px;width:47px;height:13px;line-height:13px;color:#2a303e">402</div>
<div class="dc" style="left:173px;top:423px;width:48px;height:13px;background:#d3e4f6"></div>
<div class="dt" style="left:173px;top:424px;width:48px;height:13px;line-height:13px;color:#2a303e">407</div>
<div class="dc" style="left:221px;top:423px;width:47px;height:13px;background:#35bd6d"></div>
<div class="dt" style="left:221px;top:424px;width:47px;height:13px;line-height:13px;color:#0d5e34">278</div>
<div class="dc" style="left:268px;top:423px;width:47px;height:13px;background:#35bd6d"></div>
<div class="dt" style="left:268px;top:424px;width:47px;height:13px;line-height:13px;color:#0d5e34">281</div>
<div class="dc" style="left:315px;top:423px;width:48px;height:13px;background:#f5a0c0"></div>
<div class="dt" style="left:315px;top:424px;width:48px;height:13px;line-height:13px;color:#5e2262">577</div>
<div class="dc" style="left:32px;top:436px;width:47px;height:13px;background:#9adac6"></div>
<div class="dt" style="left:32px;top:437px;width:47px;height:13px;line-height:13px;color:#16525a">349</div>
<div class="dc" style="left:79px;top:436px;width:47px;height:13px;background:#d3e4f6"></div>
<div class="dt" style="left:79px;top:437px;width:47px;height:13px;line-height:13px;color:#2a303e">401</div>
<div class="dc" style="left:126px;top:436px;width:47px;height:13px;background:#d3e4f6"></div>
<div class="dt" style="left:126px;top:437px;width:47px;height:13px;line-height:13px;color:#2a303e">402</div>
<div class="dc" style="left:173px;top:436px;width:48px;height:13px;background:#d3e4f6"></div>
<div class="dt" style="left:173px;top:437px;width:48px;height:13px;line-height:13px;color:#2a303e">407</div>
<div class="dc" style="left:221px;top:436px;width:47px;height:13px;background:#35bd6d"></div>
<div class="dt" style="left:221px;top:437px;width:47px;height:13px;line-height:13px;color:#0d5e34">278</div>
<div class="dc" style="left:268px;top:436px;width:47px;height:13px;background:#35bd6d"></div>
<div class="dt" style="left:268px;top:437px;width:47px;height:13px;line-height:13px;color:#0d5e34">280</div>
<div class="dc" style="left:315px;top:436px;width:48px;height:13px;background:#f5a0c0"></div>
<div class="dt" style="left:315px;top:437px;width:48px;height:13px;line-height:13px;color:#5e2262">577</div>
<div class="dc" style="left:32px;top:449px;width:47px;height:12px;background:#9adac6"></div>
<div class="dt" style="left:32px;top:450px;width:47px;height:12px;line-height:12px;color:#16525a">349</div>
<div class="dc" style="left:79px;top:449px;width:47px;height:12px;background:#d3e4f6"></div>
<div class="dt" style="left:79px;top:450px;width:47px;height:12px;line-height:12px;color:#2a303e">401</div>
<div class="dc" style="left:126px;top:449px;width:47px;height:12px;background:#d3e4f6"></div>
<div class="dt" style="left:126px;top:450px;width:47px;height:12px;line-height:12px;color:#2a303e">402</div>
<div class="dc" style="left:173px;top:449px;width:48px;height:12px;background:#d3e4f6"></div>
<div class="dt" style="left:173px;top:450px;width:48px;height:12px;line-height:12px;color:#2a303e">407</div>
<div class="dc" style="left:221px;top:449px;width:47px;height:12px;background:#35bd6d"></div>
<div class="dt" style="left:221px;top:450px;width:47px;height:12px;line-height:12px;color:#0d5e34">278</div>
<div class="dc" style="left:268px;top:449px;width:47px;height:12px;background:#35bd6d"></div>
<div class="dt" style="left:268px;top:450px;width:47px;height:12px;line-height:12px;color:#0d5e34">280</div>
<div class="dc" style="left:315px;top:449px;width:48px;height:12px;background:#f5a0c0"></div>
<div class="dt" style="left:315px;top:450px;width:48px;height:12px;line-height:12px;color:#5e2262">577</div>
<div class="dc" style="left:32px;top:461px;width:47px;height:13px;background:#9adac6"></div>
<div class="dt" style="left:32px;top:462px;width:47px;height:13px;line-height:13px;color:#16525a">348</div>
<div class="dc" style="left:79px;top:461px;width:47px;height:13px;background:#d3e4f6"></div>
<div class="dt" style="left:79px;top:462px;width:47px;height:13px;line-height:13px;color:#2a303e">401</div>
<div class="dc" style="left:126px;top:461px;width:47px;height:13px;background:#d3e4f6"></div>
<div class="dt" style="left:126px;top:462px;width:47px;height:13px;line-height:13px;color:#2a303e">401</div>
<div class="dc" style="left:173px;top:461px;width:48px;height:13px;background:#d3e4f6"></div>
<div class="dt" style="left:173px;top:462px;width:48px;height:13px;line-height:13px;color:#2a303e">406</div>
<div class="dc" style="left:221px;top:461px;width:47px;height:13px;background:#35bd6d"></div>
<div class="dt" style="left:221px;top:462px;width:47px;height:13px;line-height:13px;color:#0d5e34">278</div>
<div class="dc" style="left:268px;top:461px;width:47px;height:13px;background:#35bd6d"></div>
<div class="dt" style="left:268px;top:462px;width:47px;height:13px;line-height:13px;color:#0d5e34">280</div>
<div class="dc" style="left:315px;top:461px;width:48px;height:13px;background:#f5a0c0"></div>
<div class="dt" style="left:315px;top:462px;width:48px;height:13px;line-height:13px;color:#5e2262">576</div>
<div class="dc" style="left:32px;top:474px;width:47px;height:13px;background:#9adac6"></div>
<div class="dt" style="left:32px;top:475px;width:47px;height:13px;line-height:13px;color:#16525a">347</div>
<div class="dc" style="left:79px;top:474px;width:47px;height:13px;background:#d3e4f6"></div>
<div class="dt" style="left:79px;top:475px;width:47px;height:13px;line-height:13px;color:#2a303e">400</div>
<div class="dc" style="left:126px;top:474px;width:47px;height:13px;background:#d3e4f6"></div>
<div class="dt" style="left:126px;top:475px;width:47px;height:13px;line-height:13px;color:#2a303e">400</div>
<div class="dc" style="left:173px;top:474px;width:48px;height:13px;background:#d3e4f6"></div>
<div class="dt" style="left:173px;top:475px;width:48px;height:13px;line-height:13px;color:#2a303e">405</div>
<div class="dc" style="left:221px;top:474px;width:47px;height:13px;background:#35bd6d"></div>
<div class="dt" style="left:221px;top:475px;width:47px;height:13px;line-height:13px;color:#0d5e34">277</div>
<div class="dc" style="left:268px;top:474px;width:47px;height:13px;background:#35bd6d"></div>
<div class="dt" style="left:268px;top:475px;width:47px;height:13px;line-height:13px;color:#0d5e34">279</div>
<div class="dc" style="left:315px;top:474px;width:48px;height:13px;background:#f5a0c0"></div>
<div class="dt" style="left:315px;top:475px;width:48px;height:13px;line-height:13px;color:#5e2262">574</div>
<div class="dc" style="left:32px;top:487px;width:47px;height:13px;background:#9adac6"></div>
<div class="dt" style="left:32px;top:488px;width:47px;height:13px;line-height:13px;color:#16525a">346</div>
<div class="dc" style="left:79px;top:487px;width:47px;height:13px;background:#d3e4f6"></div>
<div class="dt" style="left:79px;top:488px;width:47px;height:13px;line-height:13px;color:#2a303e">400</div>
<div class="dc" style="left:126px;top:487px;width:47px;height:13px;background:#d3e4f6"></div>
<div class="dt" style="left:126px;top:488px;width:47px;height:13px;line-height:13px;color:#2a303e">400</div>
<div class="dc" style="left:173px;top:487px;width:48px;height:13px;background:#d3e4f6"></div>
<div class="dt" style="left:173px;top:488px;width:48px;height:13px;line-height:13px;color:#2a303e">405</div>
<div class="dc" style="left:221px;top:487px;width:47px;height:13px;background:#35bd6d"></div>
<div class="dt" style="left:221px;top:488px;width:47px;height:13px;line-height:13px;color:#0d5e34">276</div>
<div class="dc" style="left:268px;top:487px;width:47px;height:13px;background:#35bd6d"></div>
<div class="dt" style="left:268px;top:488px;width:47px;height:13px;line-height:13px;color:#0d5e34">279</div>
<div class="dc" style="left:315px;top:487px;width:48px;height:13px;background:#f5a0c0"></div>
<div class="dt" style="left:315px;top:488px;width:48px;height:13px;line-height:13px;color:#5e2262">574</div>
<div class="dc" style="left:32px;top:500px;width:47px;height:13px;background:#9adac6"></div>
<div class="dt" style="left:32px;top:501px;width:47px;height:13px;line-height:13px;color:#16525a">346</div>
<div class="dc" style="left:79px;top:500px;width:47px;height:13px;background:#d3e4f6"></div>
<div class="dt" style="left:79px;top:501px;width:47px;height:13px;line-height:13px;color:#2a303e">399</div>
<div class="dc" style="left:126px;top:500px;width:47px;height:13px;background:#d3e4f6"></div>
<div class="dt" style="left:126px;top:501px;width:47px;height:13px;line-height:13px;color:#2a303e">399</div>
<div class="dc" style="left:173px;top:500px;width:48px;height:13px;background:#d3e4f6"></div>
<div class="dt" style="left:173px;top:501px;width:48px;height:13px;line-height:13px;color:#2a303e">404</div>
<div class="dc" style="left:221px;top:500px;width:47px;height:13px;background:#35bd6d"></div>
<div class="dt" style="left:221px;top:501px;width:47px;height:13px;line-height:13px;color:#0d5e34">276</div>
<div class="dc" style="left:268px;top:500px;width:47px;height:13px;background:#35bd6d"></div>
<div class="dt" style="left:268px;top:501px;width:47px;height:13px;line-height:13px;color:#0d5e34">278</div>
<div class="dc" style="left:315px;top:500px;width:48px;height:13px;background:#f5a0c0"></div>
<div class="dt" style="left:315px;top:501px;width:48px;height:13px;line-height:13px;color:#5e2262">573</div>
<div class="dc" style="left:32px;top:513px;width:47px;height:12px;background:#d2e8fc"></div>
<div class="dt" style="left:32px;top:514px;width:47px;height:12px;line-height:12px;color:#4a5264">-</div>
<div class="dc" style="left:79px;top:513px;width:47px;height:12px;background:#d2e8fc"></div>
<div class="dt" style="left:79px;top:514px;width:47px;height:12px;line-height:12px;color:#4a5264">-</div>
<div class="dc" style="left:126px;top:513px;width:47px;height:12px;background:#d2e8fc"></div>
<div class="dt" style="left:126px;top:514px;width:47px;height:12px;line-height:12px;color:#4a5264">-</div>
<div class="dc" style="left:173px;top:513px;width:48px;height:12px;background:#d2e8fc"></div>
<div class="dt" style="left:173px;top:514px;width:48px;height:12px;line-height:12px;color:#4a5264">-</div>
<div class="dc" style="left:221px;top:513px;width:47px;height:12px;background:#d2e8fc"></div>
<div class="dt" style="left:221px;top:514px;width:47px;height:12px;line-height:12px;color:#4a5264">-</div>
<div class="dc" style="left:268px;top:513px;width:47px;height:12px;background:#d2e8fc"></div>
<div class="dt" style="left:268px;top:514px;width:47px;height:12px;line-height:12px;color:#4a5264">-</div>
<div class="dc" style="left:315px;top:513px;width:48px;height:12px;background:#d2e8fc"></div>
<div class="dt" style="left:315px;top:514px;width:48px;height:12px;line-height:12px;color:#4a5264">-</div>
<div class="dc" style="left:32px;top:525px;width:47px;height:13px;background:#9adac6"></div>
<div class="dt" style="left:32px;top:526px;width:47px;height:13px;line-height:13px;color:#16525a">346</div>
<div class="dc" style="left:79px;top:525px;width:47px;height:13px;background:#d3e4f6"></div>
<div class="dt" style="left:79px;top:526px;width:47px;height:13px;line-height:13px;color:#2a303e">399</div>
<div class="dc" style="left:126px;top:525px;width:47px;height:13px;background:#d3e4f6"></div>
<div class="dt" style="left:126px;top:526px;width:47px;height:13px;line-height:13px;color:#2a303e">399</div>
<div class="dc" style="left:173px;top:525px;width:48px;height:13px;background:#d3e4f6"></div>
<div class="dt" style="left:173px;top:526px;width:48px;height:13px;line-height:13px;color:#2a303e">404</div>
<div class="dc" style="left:221px;top:525px;width:47px;height:13px;background:#35bd6d"></div>
<div class="dt" style="left:221px;top:526px;width:47px;height:13px;line-height:13px;color:#0d5e34">276</div>
<div class="dc" style="left:268px;top:525px;width:47px;height:13px;background:#35bd6d"></div>
<div class="dt" style="left:268px;top:526px;width:47px;height:13px;line-height:13px;color:#0d5e34">278</div>
<div class="dc" style="left:315px;top:525px;width:48px;height:13px;background:#f5a0c0"></div>
<div class="dt" style="left:315px;top:526px;width:48px;height:13px;line-height:13px;color:#5e2262">573</div>
<div class="dc" style="left:32px;top:538px;width:47px;height:13px;background:#9adac6"></div>
<div class="dt" style="left:32px;top:539px;width:47px;height:13px;line-height:13px;color:#16525a">346</div>
<div class="dc" style="left:79px;top:538px;width:47px;height:13px;background:#d3e4f6"></div>
<div class="dt" style="left:79px;top:539px;width:47px;height:13px;line-height:13px;color:#2a303e">399</div>
<div class="dc" style="left:126px;top:538px;width:47px;height:13px;background:#d3e4f6"></div>
<div class="dt" style="left:126px;top:539px;width:47px;height:13px;line-height:13px;color:#2a303e">399</div>
<div class="dc" style="left:173px;top:538px;width:48px;height:13px;background:#d3e4f6"></div>
<div class="dt" style="left:173px;top:539px;width:48px;height:13px;line-height:13px;color:#2a303e">404</div>
<div class="dc" style="left:221px;top:538px;width:47px;height:13px;background:#35bd6d"></div>
<div class="dt" style="left:221px;top:539px;width:47px;height:13px;line-height:13px;color:#0d5e34">276</div>
<div class="dc" style="left:268px;top:538px;width:47px;height:13px;background:#35bd6d"></div>
<div class="dt" style="left:268px;top:539px;width:47px;height:13px;line-height:13px;color:#0d5e34">278</div>
<div class="dc" style="left:315px;top:538px;width:48px;height:13px;background:#f5a0c0"></div>
<div class="dt" style="left:315px;top:539px;width:48px;height:13px;line-height:13px;color:#5e2262">573</div>
<div class="dc" style="left:32px;top:551px;width:47px;height:13px;background:#9adac6"></div>
<div class="dt" style="left:32px;top:552px;width:47px;height:13px;line-height:13px;color:#16525a">345</div>
<div class="dc" style="left:79px;top:551px;width:47px;height:13px;background:#d3e4f6"></div>
<div class="dt" style="left:79px;top:552px;width:47px;height:13px;line-height:13px;color:#2a303e">398</div>
<div class="dc" style="left:126px;top:551px;width:47px;height:13px;background:#d3e4f6"></div>
<div class="dt" style="left:126px;top:552px;width:47px;height:13px;line-height:13px;color:#2a303e">399</div>
<div class="dc" style="left:173px;top:551px;width:48px;height:13px;background:#d3e4f6"></div>
<div class="dt" style="left:173px;top:552px;width:48px;height:13px;line-height:13px;color:#2a303e">404</div>
<div class="dc" style="left:221px;top:551px;width:47px;height:13px;background:#35bd6d"></div>
<div class="dt" style="left:221px;top:552px;width:47px;height:13px;line-height:13px;color:#0d5e34">276</div>
<div class="dc" style="left:268px;top:551px;width:47px;height:13px;background:#35bd6d"></div>
<div class="dt" style="left:268px;top:552px;width:47px;height:13px;line-height:13px;color:#0d5e34">278</div>
<div class="dc" style="left:315px;top:551px;width:48px;height:13px;background:#f5a0c0"></div>
<div class="dt" style="left:315px;top:552px;width:48px;height:13px;line-height:13px;color:#5e2262">572</div>
<div class="dc" style="left:32px;top:564px;width:47px;height:13px;background:#9adac6"></div>
<div class="dt" style="left:32px;top:565px;width:47px;height:13px;line-height:13px;color:#16525a">345</div>
<div class="dc" style="left:79px;top:564px;width:47px;height:13px;background:#d3e4f6"></div>
<div class="dt" style="left:79px;top:565px;width:47px;height:13px;line-height:13px;color:#2a303e">398</div>
<div class="dc" style="left:126px;top:564px;width:47px;height:13px;background:#d3e4f6"></div>
<div class="dt" style="left:126px;top:565px;width:47px;height:13px;line-height:13px;color:#2a303e">399</div>
<div class="dc" style="left:173px;top:564px;width:48px;height:13px;background:#d3e4f6"></div>
<div class="dt" style="left:173px;top:565px;width:48px;height:13px;line-height:13px;color:#2a303e">404</div>
<div class="dc" style="left:221px;top:564px;width:47px;height:13px;background:#35bd6d"></div>
<div class="dt" style="left:221px;top:565px;width:47px;height:13px;line-height:13px;color:#0d5e34">275</div>
<div class="dc" style="left:268px;top:564px;width:47px;height:13px;background:#35bd6d"></div>
<div class="dt" style="left:268px;top:565px;width:47px;height:13px;line-height:13px;color:#0d5e34">278</div>
<div class="dc" style="left:315px;top:564px;width:48px;height:13px;background:#f5a0c0"></div>
<div class="dt" style="left:315px;top:565px;width:48px;height:13px;line-height:13px;color:#5e2262">572</div>
<div class="dc" style="left:32px;top:577px;width:47px;height:12px;background:#9adac6"></div>
<div class="dt" style="left:32px;top:578px;width:47px;height:12px;line-height:12px;color:#16525a">345</div>
<div class="dc" style="left:79px;top:577px;width:47px;height:12px;background:#d3e4f6"></div>
<div class="dt" style="left:79px;top:578px;width:47px;height:12px;line-height:12px;color:#2a303e">398</div>
<div class="dc" style="left:126px;top:577px;width:47px;height:12px;background:#d3e4f6"></div>
<div class="dt" style="left:126px;top:578px;width:47px;height:12px;line-height:12px;color:#2a303e">398</div>
<div class="dc" style="left:173px;top:577px;width:48px;height:12px;background:#d3e4f6"></div>
<div class="dt" style="left:173px;top:578px;width:48px;height:12px;line-height:12px;color:#2a303e">403</div>
<div class="dc" style="left:221px;top:577px;width:47px;height:12px;background:#35bd6d"></div>
<div class="dt" style="left:221px;top:578px;width:47px;height:12px;line-height:12px;color:#0d5e34">275</div>
<div class="dc" style="left:268px;top:577px;width:47px;height:12px;background:#35bd6d"></div>
<div class="dt" style="left:268px;top:578px;width:47px;height:12px;line-height:12px;color:#0d5e34">277</div>
<div class="dc" style="left:315px;top:577px;width:48px;height:12px;background:#f5a0c0"></div>
<div class="dt" style="left:315px;top:578px;width:48px;height:12px;line-height:12px;color:#5e2262">572</div>
<div class="dc" style="left:32px;top:589px;width:47px;height:13px;background:#9adac6"></div>
<div class="dt" style="left:32px;top:590px;width:47px;height:13px;line-height:13px;color:#16525a">345</div>
<div class="dc" style="left:79px;top:589px;width:47px;height:13px;background:#d3e4f6"></div>
<div class="dt" style="left:79px;top:590px;width:47px;height:13px;line-height:13px;color:#2a303e">398</div>
<div class="dc" style="left:126px;top:589px;width:47px;height:13px;background:#d3e4f6"></div>
<div class="dt" style="left:126px;top:590px;width:47px;height:13px;line-height:13px;color:#2a303e">398</div>
<div class="dc" style="left:173px;top:589px;width:48px;height:13px;background:#d3e4f6"></div>
<div class="dt" style="left:173px;top:590px;width:48px;height:13px;line-height:13px;color:#2a303e">403</div>
<div class="dc" style="left:221px;top:589px;width:47px;height:13px;background:#35bd6d"></div>
<div class="dt" style="left:221px;top:590px;width:47px;height:13px;line-height:13px;color:#0d5e34">275</div>
<div class="dc" style="left:268px;top:589px;width:47px;height:13px;background:#35bd6d"></div>
<div class="dt" style="left:268px;top:590px;width:47px;height:13px;line-height:13px;color:#0d5e34">277</div>
<div class="dc" style="left:315px;top:589px;width:48px;height:13px;background:#f5a0c0"></div>
<div class="dt" style="left:315px;top:590px;width:48px;height:13px;line-height:13px;color:#5e2262">571</div>
<div class="dc" style="left:32px;top:602px;width:47px;height:13px;background:#9adac6"></div>
<div class="dt" style="left:32px;top:603px;width:47px;height:13px;line-height:13px;color:#16525a">344</div>
<div class="dc" style="left:79px;top:602px;width:47px;height:13px;background:#d3e4f6"></div>
<div class="dt" style="left:79px;top:603px;width:47px;height:13px;line-height:13px;color:#2a303e">397</div>
<div class="dc" style="left:126px;top:602px;width:47px;height:13px;background:#d3e4f6"></div>
<div class="dt" style="left:126px;top:603px;width:47px;height:13px;line-height:13px;color:#2a303e">398</div>
<div class="dc" style="left:173px;top:602px;width:48px;height:13px;background:#d3e4f6"></div>
<div class="dt" style="left:173px;top:603px;width:48px;height:13px;line-height:13px;color:#2a303e">403</div>
<div class="dc" style="left:221px;top:602px;width:47px;height:13px;background:#35bd6d"></div>
<div class="dt" style="left:221px;top:603px;width:47px;height:13px;line-height:13px;color:#0d5e34">275</div>
<div class="dc" style="left:268px;top:602px;width:47px;height:13px;background:#35bd6d"></div>
<div class="dt" style="left:268px;top:603px;width:47px;height:13px;line-height:13px;color:#0d5e34">277</div>
<div class="dc" style="left:315px;top:602px;width:48px;height:13px;background:#f5a0c0"></div>
<div class="dt" style="left:315px;top:603px;width:48px;height:13px;line-height:13px;color:#5e2262">571</div>
<div class="dc" style="left:32px;top:615px;width:47px;height:13px;background:#9adac6"></div>
<div class="dt" style="left:32px;top:616px;width:47px;height:13px;line-height:13px;color:#16525a">344</div>
<div class="dc" style="left:79px;top:615px;width:47px;height:13px;background:#d3e4f6"></div>
<div class="dt" style="left:79px;top:616px;width:47px;height:13px;line-height:13px;color:#2a303e">397</div>
<div class="dc" style="left:126px;top:615px;width:47px;height:13px;background:#d3e4f6"></div>
<div class="dt" style="left:126px;top:616px;width:47px;height:13px;line-height:13px;color:#2a303e">397</div>
<div class="dc" style="left:173px;top:615px;width:48px;height:13px;background:#d3e4f6"></div>
<div class="dt" style="left:173px;top:616px;width:48px;height:13px;line-height:13px;color:#2a303e">402</div>
<div class="dc" style="left:221px;top:615px;width:47px;height:13px;background:#35bd6d"></div>
<div class="dt" style="left:221px;top:616px;width:47px;height:13px;line-height:13px;color:#0d5e34">275</div>
<div class="dc" style="left:268px;top:615px;width:47px;height:13px;background:#35bd6d"></div>
<div class="dt" style="left:268px;top:616px;width:47px;height:13px;line-height:13px;color:#0d5e34">277</div>
<div class="dc" style="left:315px;top:615px;width:48px;height:13px;background:#f5a0c0"></div>
<div class="dt" style="left:315px;top:616px;width:48px;height:13px;line-height:13px;color:#5e2262">570</div>
<div class="dc" style="left:32px;top:628px;width:47px;height:13px;background:#9adac6"></div>
<div class="dt" style="left:32px;top:629px;width:47px;height:13px;line-height:13px;color:#16525a">344</div>
<div class="dc" style="left:79px;top:628px;width:47px;height:13px;background:#d3e4f6"></div>
<div class="dt" style="left:79px;top:629px;width:47px;height:13px;line-height:13px;color:#2a303e">397</div>
<div class="dc" style="left:126px;top:628px;width:47px;height:13px;background:#d3e4f6"></div>
<div class="dt" style="left:126px;top:629px;width:47px;height:13px;line-height:13px;color:#2a303e">397</div>
<div class="dc" style="left:173px;top:628px;width:48px;height:13px;background:#d3e4f6"></div>
<div class="dt" style="left:173px;top:629px;width:48px;height:13px;line-height:13px;color:#2a303e">402</div>
<div class="dc" style="left:221px;top:628px;width:47px;height:13px;background:#35bd6d"></div>
<div class="dt" style="left:221px;top:629px;width:47px;height:13px;line-height:13px;color:#0d5e34">274</div>
<div class="dc" style="left:268px;top:628px;width:47px;height:13px;background:#35bd6d"></div>
<div class="dt" style="left:268px;top:629px;width:47px;height:13px;line-height:13px;color:#0d5e34">276</div>
<div class="dc" style="left:315px;top:628px;width:48px;height:13px;background:#f5a0c0"></div>
<div class="dt" style="left:315px;top:629px;width:48px;height:13px;line-height:13px;color:#5e2262">570</div>
<div class="dc" style="left:32px;top:641px;width:47px;height:12px;background:#9adac6"></div>
<div class="dt" style="left:32px;top:642px;width:47px;height:12px;line-height:12px;color:#16525a">344</div>
<div class="dc" style="left:79px;top:641px;width:47px;height:12px;background:#d3e4f6"></div>
<div class="dt" style="left:79px;top:642px;width:47px;height:12px;line-height:12px;color:#2a303e">396</div>
<div class="dc" style="left:126px;top:641px;width:47px;height:12px;background:#d3e4f6"></div>
<div class="dt" style="left:126px;top:642px;width:47px;height:12px;line-height:12px;color:#2a303e">396</div>
<div class="dc" style="left:173px;top:641px;width:48px;height:12px;background:#d3e4f6"></div>
<div class="dt" style="left:173px;top:642px;width:48px;height:12px;line-height:12px;color:#2a303e">401</div>
<div class="dc" style="left:221px;top:641px;width:47px;height:12px;background:#35bd6d"></div>
<div class="dt" style="left:221px;top:642px;width:47px;height:12px;line-height:12px;color:#0d5e34">273</div>
<div class="dc" style="left:268px;top:641px;width:47px;height:12px;background:#35bd6d"></div>
<div class="dt" style="left:268px;top:642px;width:47px;height:12px;line-height:12px;color:#0d5e34">276</div>
<div class="dc" style="left:315px;top:641px;width:48px;height:12px;background:#f5a0c0"></div>
<div class="dt" style="left:315px;top:642px;width:48px;height:12px;line-height:12px;color:#5e2262">568</div>
<div class="dc" style="left:32px;top:653px;width:47px;height:13px;background:#d2e8fc"></div>
<div class="dt" style="left:32px;top:654px;width:47px;height:13px;line-height:13px;color:#4a5264">-</div>
<div class="dc" style="left:79px;top:653px;width:47px;height:13px;background:#d2e8fc"></div>
<div class="dt" style="left:79px;top:654px;width:47px;height:13px;line-height:13px;color:#4a5264">-</div>
<div class="dc" style="left:126px;top:653px;width:47px;height:13px;background:#d3e4f6"></div>
<div class="dt" style="left:126px;top:654px;width:47px;height:13px;line-height:13px;color:#2a303e">395</div>
<div class="dc" style="left:173px;top:653px;width:48px;height:13px;background:#d3e4f6"></div>
<div class="dt" style="left:173px;top:654px;width:48px;height:13px;line-height:13px;color:#2a303e">399</div>
<div class="dc" style="left:221px;top:653px;width:47px;height:13px;background:#35bd6d"></div>
<div class="dt" style="left:221px;top:654px;width:47px;height:13px;line-height:13px;color:#0d5e34">272</div>
<div class="dc" style="left:268px;top:653px;width:47px;height:13px;background:#35bd6d"></div>
<div class="dt" style="left:268px;top:654px;width:47px;height:13px;line-height:13px;color:#0d5e34">275</div>
<div class="dc" style="left:315px;top:653px;width:48px;height:13px;background:#d2e8fc"></div>
<div class="dt" style="left:315px;top:654px;width:48px;height:13px;line-height:13px;color:#4a5264">-</div>
<div class="dc" style="left:32px;top:666px;width:47px;height:13px;background:#d2e8fc"></div>
<div class="dt" style="left:32px;top:667px;width:47px;height:13px;line-height:13px;color:#4a5264">-</div>
<div class="dc" style="left:79px;top:666px;width:47px;height:13px;background:#d2e8fc"></div>
<div class="dt" style="left:79px;top:667px;width:47px;height:13px;line-height:13px;color:#4a5264">-</div>
<div class="dc" style="left:126px;top:666px;width:47px;height:13px;background:#d3e4f6"></div>
<div class="dt" style="left:126px;top:667px;width:47px;height:13px;line-height:13px;color:#2a303e">394</div>
<div class="dc" style="left:173px;top:666px;width:48px;height:13px;background:#d3e4f6"></div>
<div class="dt" style="left:173px;top:667px;width:48px;height:13px;line-height:13px;color:#2a303e">399</div>
<div class="dc" style="left:221px;top:666px;width:47px;height:13px;background:#35bd6d"></div>
<div class="dt" style="left:221px;top:667px;width:47px;height:13px;line-height:13px;color:#0d5e34">272</div>
<div class="dc" style="left:268px;top:666px;width:47px;height:13px;background:#d2e8fc"></div>
<div class="dt" style="left:268px;top:667px;width:47px;height:13px;line-height:13px;color:#4a5264">-</div>
<div class="dc" style="left:315px;top:666px;width:48px;height:13px;background:#d2e8fc"></div>
<div class="dt" style="left:315px;top:667px;width:48px;height:13px;line-height:13px;color:#4a5264">-</div>
<div class="dc" style="left:32px;top:679px;width:47px;height:13px;background:#d2e8fc"></div>
<div class="dt" style="left:32px;top:680px;width:47px;height:13px;line-height:13px;color:#4a5264">-</div>
<div class="dc" style="left:79px;top:679px;width:47px;height:13px;background:#d2e8fc"></div>
<div class="dt" style="left:79px;top:680px;width:47px;height:13px;line-height:13px;color:#4a5264">-</div>
<div class="dc" style="left:126px;top:679px;width:47px;height:13px;background:#d2e8fc"></div>
<div class="dt" style="left:126px;top:680px;width:47px;height:13px;line-height:13px;color:#4a5264">-</div>
<div class="dc" style="left:173px;top:679px;width:48px;height:13px;background:#d2e8fc"></div>
<div class="dt" style="left:173px;top:680px;width:48px;height:13px;line-height:13px;color:#4a5264">-</div>
<div class="dc" style="left:221px;top:679px;width:47px;height:13px;background:#d2e8fc"></div>
<div class="dt" style="left:221px;top:680px;width:47px;height:13px;line-height:13px;color:#4a5264">-</div>
<div class="dc" style="left:268px;top:679px;width:47px;height:13px;background:#d2e8fc"></div>
<div class="dt" style="left:268px;top:680px;width:47px;height:13px;line-height:13px;color:#4a5264">-</div>
<div class="dc" style="left:315px;top:679px;width:48px;height:13px;background:#d2e8fc"></div>
<div class="dt" style="left:315px;top:680px;width:48px;height:13px;line-height:13px;color:#4a5264">-</div>
<div class="dc" style="left:32px;top:692px;width:47px;height:13px;background:#d2e8fc"></div>
<div class="dt" style="left:32px;top:693px;width:47px;height:13px;line-height:13px;color:#4a5264">-</div>
<div class="dc" style="left:79px;top:692px;width:47px;height:13px;background:#d2e8fc"></div>
<div class="dt" style="left:79px;top:693px;width:47px;height:13px;line-height:13px;color:#4a5264">-</div>
<div class="dc" style="left:126px;top:692px;width:47px;height:13px;background:#d2e8fc"></div>
<div class="dt" style="left:126px;top:693px;width:47px;height:13px;line-height:13px;color:#4a5264">-</div>
<div class="dc" style="left:173px;top:692px;width:48px;height:13px;background:#d2e8fc"></div>
<div class="dt" style="left:173px;top:693px;width:48px;height:13px;line-height:13px;color:#4a5264">-</div>
<div class="dc" style="left:221px;top:692px;width:47px;height:13px;background:#d2e8fc"></div>
<div class="dt" style="left:221px;top:693px;width:47px;height:13px;line-height:13px;color:#4a5264">-</div>
<div class="dc" style="left:268px;top:692px;width:47px;height:13px;background:#d2e8fc"></div>
<div class="dt" style="left:268px;top:693px;width:47px;height:13px;line-height:13px;color:#4a5264">-</div>
<div class="dc" style="left:315px;top:692px;width:48px;height:13px;background:#d2e8fc"></div>
<div class="dt" style="left:315px;top:693px;width:48px;height:13px;line-height:13px;color:#4a5264">-</div>
<div class="dhl" style="left:32px;top:116px;width:331px"></div>
<div class="dhl" style="left:32px;top:129px;width:331px"></div>
<div class="dhl" style="left:32px;top:141px;width:331px"></div>
<div class="dhl" style="left:32px;top:154px;width:331px"></div>
<div class="dhl" style="left:32px;top:167px;width:331px"></div>
<div class="dhl" style="left:32px;top:180px;width:331px"></div>
<div class="dhl" style="left:32px;top:193px;width:331px"></div>
<div class="dhl" style="left:32px;top:205px;width:331px"></div>
<div class="dhl" style="left:32px;top:218px;width:331px"></div>
<div class="dhl" style="left:32px;top:231px;width:331px"></div>
<div class="dhl" style="left:32px;top:244px;width:331px"></div>
<div class="dhl" style="left:32px;top:257px;width:331px"></div>
<div class="dhl" style="left:32px;top:269px;width:331px"></div>
<div class="dhl" style="left:32px;top:282px;width:331px"></div>
<div class="dhl" style="left:32px;top:295px;width:331px"></div>
<div class="dhl" style="left:32px;top:308px;width:331px"></div>
<div class="dhl" style="left:32px;top:321px;width:331px"></div>
<div class="dhl" style="left:32px;top:333px;width:331px"></div>
<div class="dhl" style="left:32px;top:346px;width:331px"></div>
<div class="dhl" style="left:32px;top:359px;width:331px"></div>
<div class="dhl" style="left:32px;top:372px;width:331px"></div>
<div class="dhl" style="left:32px;top:385px;width:331px"></div>
<div class="dhl" style="left:32px;top:397px;width:331px"></div>
<div class="dhl" style="left:32px;top:410px;width:331px"></div>
<div class="dhl" style="left:32px;top:423px;width:331px"></div>
<div class="dhl" style="left:32px;top:436px;width:331px"></div>
<div class="dhl" style="left:32px;top:449px;width:331px"></div>
<div class="dhl" style="left:32px;top:461px;width:331px"></div>
<div class="dhl" style="left:32px;top:474px;width:331px"></div>
<div class="dhl" style="left:32px;top:487px;width:331px"></div>
<div class="dhl" style="left:32px;top:500px;width:331px"></div>
<div class="dhl" style="left:32px;top:513px;width:331px"></div>
<div class="dhl" style="left:32px;top:525px;width:331px"></div>
<div class="dhl" style="left:32px;top:538px;width:331px"></div>
<div class="dhl" style="left:32px;top:551px;width:331px"></div>
<div class="dhl" style="left:32px;top:564px;width:331px"></div>
<div class="dhl" style="left:32px;top:577px;width:331px"></div>
<div class="dhl" style="left:32px;top:589px;width:331px"></div>
<div class="dhl" style="left:32px;top:602px;width:331px"></div>
<div class="dhl" style="left:32px;top:615px;width:331px"></div>
<div class="dhl" style="left:32px;top:628px;width:331px"></div>
<div class="dhl" style="left:32px;top:641px;width:331px"></div>
<div class="dhl" style="left:32px;top:653px;width:331px"></div>
<div class="dhl" style="left:32px;top:666px;width:331px"></div>
<div class="dhl" style="left:32px;top:679px;width:331px"></div>
<div class="dhl" style="left:32px;top:692px;width:331px"></div>
<div class="dvl" style="left:79px;top:103px;height:602px"></div>
<div class="dvl" style="left:126px;top:103px;height:602px"></div>
<div class="dvl" style="left:173px;top:103px;height:602px"></div>
<div class="dvl" style="left:221px;top:103px;height:602px"></div>
<div class="dvl" style="left:268px;top:103px;height:602px"></div>
<div class="dvl" style="left:315px;top:103px;height:602px"></div>
<div class="av1" style="left:32px;top:710px;width:47px">349万</div>
<div class="av2" style="left:22px;top:721.3px;width:67px">45661元<span class="m3">/<b>m</b><i>²</i></span></div>
<div class="av1" style="left:79px;top:710px;width:47px">402万</div>
<div class="av2" style="left:69px;top:721.3px;width:67px">46232元<span class="m3">/<b>m</b><i>²</i></span></div>
<div class="av1" style="left:126px;top:710px;width:47px">402万</div>
<div class="av2" style="left:116px;top:721.3px;width:67px">46301元<span class="m3">/<b>m</b><i>²</i></span></div>
<div class="av1" style="left:173px;top:710px;width:48px">407万</div>
<div class="av2" style="left:163px;top:721.3px;width:68px">46872元<span class="m3">/<b>m</b><i>²</i></span></div>
<div class="av1" style="left:221px;top:710px;width:47px">278万</div>
<div class="av2" style="left:211px;top:721.3px;width:67px">43946元<span class="m3">/<b>m</b><i>²</i></span></div>
<div class="av1" style="left:268px;top:710px;width:47px">281万</div>
<div class="av2" style="left:258px;top:721.3px;width:67px">44309元<span class="m3">/<b>m</b><i>²</i></span></div>
<div class="av1" style="left:315px;top:710px;width:48px">578万</div>
<div class="av2" style="left:305px;top:721.3px;width:68px">51040元<span class="m3">/<b>m</b><i>²</i></span></div>
<div class="avl" style="left:-9px;top:715.5px">均价</div>
<div class="lab" style="top:91px;left:359.5px;height:13px;line-height:13px">房号</div>
<div class="lab" style="top:104px;left:359.5px;height:13px;line-height:13px">面积</div>
<div class="lab" style="top:117px;left:359.5px;height:13px;line-height:13px">46层</div>
<div class="lab" style="top:130px;left:359.5px;height:12px;line-height:12px">45层</div>
<div class="lab" style="top:142px;left:359.5px;height:13px;line-height:13px">44层</div>
<div class="lab" style="top:155px;left:359.5px;height:13px;line-height:13px">43层</div>
<div class="lab" style="top:168px;left:359.5px;height:13px;line-height:13px">42层</div>
<div class="lab" style="top:181px;left:359.5px;height:13px;line-height:13px">41层</div>
<div class="lab" style="top:194px;left:359.5px;height:12px;line-height:12px">40层</div>
<div class="lab" style="top:206px;left:359.5px;height:13px;line-height:13px">39层</div>
<div class="lab" style="top:219px;left:359.5px;height:13px;line-height:13px">38层</div>
<div class="lab" style="top:232px;left:359.5px;height:13px;line-height:13px">37层</div>
<div class="lab" style="top:245px;left:359.5px;height:13px;line-height:13px">36层</div>
<div class="lab" style="top:258px;left:359.5px;height:12px;line-height:12px">35层</div>
<div class="lab" style="top:270px;left:359.5px;height:13px;line-height:13px">34层</div>
<div class="lab" style="top:283px;left:359.5px;height:13px;line-height:13px">33层</div>
<div class="lab" style="top:296px;left:359.5px;height:13px;line-height:13px">32层</div>
<div class="lab" style="top:309px;left:359.5px;height:13px;line-height:13px">31层</div>
<div class="lab" style="top:322px;left:359.5px;height:12px;line-height:12px">30层</div>
<div class="lab" style="top:334px;left:359.5px;height:13px;line-height:13px">29层</div>
<div class="lab" style="top:347px;left:359.5px;height:13px;line-height:13px">28层</div>
<div class="lab" style="top:360px;left:359.5px;height:13px;line-height:13px">27层</div>
<div class="lab" style="top:373px;left:359.5px;height:13px;line-height:13px">26层</div>
<div class="lab" style="top:386px;left:359.5px;height:12px;line-height:12px">25层</div>
<div class="lab" style="top:398px;left:359.5px;height:13px;line-height:13px">24层</div>
<div class="lab" style="top:411px;left:359.5px;height:13px;line-height:13px">23层</div>
<div class="lab" style="top:424px;left:359.5px;height:13px;line-height:13px">22层</div>
<div class="lab" style="top:437px;left:359.5px;height:13px;line-height:13px">21层</div>
<div class="lab" style="top:450px;left:359.5px;height:12px;line-height:12px">20层</div>
<div class="lab" style="top:462px;left:359.5px;height:13px;line-height:13px">19层</div>
<div class="lab" style="top:475px;left:359.5px;height:13px;line-height:13px">18层</div>
<div class="lab" style="top:488px;left:359.5px;height:13px;line-height:13px">17层</div>
<div class="lab" style="top:501px;left:359.5px;height:13px;line-height:13px">16层</div>
<div class="lab" style="top:514px;left:359.5px;height:12px;line-height:12px">15层</div>
<div class="lab" style="top:526px;left:359.5px;height:13px;line-height:13px">14层</div>
<div class="lab" style="top:539px;left:359.5px;height:13px;line-height:13px">13层</div>
<div class="lab" style="top:552px;left:359.5px;height:13px;line-height:13px">12层</div>
<div class="lab" style="top:565px;left:359.5px;height:13px;line-height:13px">11层</div>
<div class="lab" style="top:578px;left:359.5px;height:12px;line-height:12px">10层</div>
<div class="lab" style="top:590px;left:359.5px;height:13px;line-height:13px">9层</div>
<div class="lab" style="top:603px;left:359.5px;height:13px;line-height:13px">8层</div>
<div class="lab" style="top:616px;left:359.5px;height:13px;line-height:13px">7层</div>
<div class="lab" style="top:629px;left:359.5px;height:13px;line-height:13px">6层</div>
<div class="lab" style="top:642px;left:359.5px;height:12px;line-height:12px">5层</div>
<div class="lab" style="top:654px;left:359.5px;height:13px;line-height:13px">4层</div>
<div class="lab" style="top:667px;left:359.5px;height:13px;line-height:13px">3层</div>
<div class="lab" style="top:680px;left:359.5px;height:13px;line-height:13px">2层</div>
<div class="lab" style="top:693px;left:359.5px;height:13px;line-height:13px">1层</div>
<div class="hdr" style="left:402px;top:90px;width:331px;height:26px"></div>
<div class="hc" style="left:402px;top:91px;width:47px;height:13px;line-height:13px">01</div>
<div class="hc" style="left:402px;top:104px;width:47px;height:13px;line-height:13px">76<span class="m2"><b>m</b><i>²</i></span></div>
<div class="hc" style="left:449px;top:91px;width:47px;height:13px;line-height:13px">02</div>
<div class="hc" style="left:449px;top:104px;width:47px;height:13px;line-height:13px">86<span class="m2"><b>m</b><i>²</i></span></div>
<div class="hc" style="left:496px;top:91px;width:48px;height:13px;line-height:13px">03</div>
<div class="hc" style="left:496px;top:104px;width:48px;height:13px;line-height:13px">86<span class="m2"><b>m</b><i>²</i></span></div>
<div class="hc" style="left:544px;top:91px;width:47px;height:13px;line-height:13px">04</div>
<div class="hc" style="left:544px;top:104px;width:47px;height:13px;line-height:13px">86<span class="m2"><b>m</b><i>²</i></span></div>
<div class="hc" style="left:591px;top:91px;width:47px;height:13px;line-height:13px">05</div>
<div class="hc" style="left:591px;top:104px;width:47px;height:13px;line-height:13px">76<span class="m2"><b>m</b><i>²</i></span></div>
<div class="hc" style="left:638px;top:91px;width:47px;height:13px;line-height:13px">06</div>
<div class="hc" style="left:638px;top:104px;width:47px;height:13px;line-height:13px">76<span class="m2"><b>m</b><i>²</i></span></div>
<div class="hc" style="left:685px;top:91px;width:48px;height:13px;line-height:13px">07</div>
<div class="hc" style="left:685px;top:104px;width:48px;height:13px;line-height:13px">112<span class="m2"><b>m</b><i>²</i></span></div>
<div class="hl" style="left:402px;top:90px;width:332px"></div>
<div class="hl" style="left:402px;top:103px;width:332px"></div>
<div class="vl" style="left:402px;top:90px;height:26px"></div>
<div class="vl" style="left:449px;top:90px;height:26px"></div>
<div class="vl" style="left:496px;top:90px;height:26px"></div>
<div class="vl" style="left:544px;top:90px;height:26px"></div>
<div class="vl" style="left:591px;top:90px;height:26px"></div>
<div class="vl" style="left:638px;top:90px;height:26px"></div>
<div class="vl" style="left:685px;top:90px;height:26px"></div>
<div class="vl" style="left:733px;top:90px;height:26px"></div>
<div class="dc" style="left:402px;top:116px;width:47px;height:13px;background:#88d6b8"></div>
<div class="dt" style="left:402px;top:117px;width:47px;height:13px;line-height:13px;color:#16525a">343</div>
<div class="dc" style="left:449px;top:116px;width:47px;height:13px;background:#d0e8fa"></div>
<div class="dt" style="left:449px;top:117px;width:47px;height:13px;line-height:13px;color:#2a303e">391</div>
<div class="dc" style="left:496px;top:116px;width:48px;height:13px;background:#d0e8fa"></div>
<div class="dt" style="left:496px;top:117px;width:48px;height:13px;line-height:13px;color:#2a303e">394</div>
<div class="dc" style="left:544px;top:116px;width:47px;height:13px;background:#d0e8fa"></div>
<div class="dt" style="left:544px;top:117px;width:47px;height:13px;line-height:13px;color:#2a303e">391</div>
<div class="dc" style="left:591px;top:116px;width:47px;height:13px;background:#78d0a8"></div>
<div class="dt" style="left:591px;top:117px;width:47px;height:13px;line-height:13px;color:#15555a">330</div>
<div class="dc" style="left:638px;top:116px;width:47px;height:13px;background:#78d0a8"></div>
<div class="dt" style="left:638px;top:117px;width:47px;height:13px;line-height:13px;color:#15555a">334</div>
<div class="dc" style="left:685px;top:116px;width:48px;height:13px;background:#f5a3c3"></div>
<div class="dt" style="left:685px;top:117px;width:48px;height:13px;line-height:13px;color:#5e2262">562</div>
<div class="dc" style="left:402px;top:129px;width:47px;height:12px;background:#88d6b8"></div>
<div class="dt" style="left:402px;top:130px;width:47px;height:12px;line-height:12px;color:#16525a">345</div>
<div class="dc" style="left:449px;top:129px;width:47px;height:12px;background:#d0e8fa"></div>
<div class="dt" style="left:449px;top:130px;width:47px;height:12px;line-height:12px;color:#2a303e">393</div>
<div class="dc" style="left:496px;top:129px;width:48px;height:12px;background:#d0e8fa"></div>
<div class="dt" style="left:496px;top:130px;width:48px;height:12px;line-height:12px;color:#2a303e">397</div>
<div class="dc" style="left:544px;top:129px;width:47px;height:12px;background:#d0e8fa"></div>
<div class="dt" style="left:544px;top:130px;width:47px;height:12px;line-height:12px;color:#2a303e">394</div>
<div class="dc" style="left:591px;top:129px;width:47px;height:12px;background:#78d0a8"></div>
<div class="dt" style="left:591px;top:130px;width:47px;height:12px;line-height:12px;color:#15555a">332</div>
<div class="dc" style="left:638px;top:129px;width:47px;height:12px;background:#78d0a8"></div>
<div class="dt" style="left:638px;top:130px;width:47px;height:12px;line-height:12px;color:#15555a">336</div>
<div class="dc" style="left:685px;top:129px;width:48px;height:12px;background:#f5a3c3"></div>
<div class="dt" style="left:685px;top:130px;width:48px;height:12px;line-height:12px;color:#5e2262">564</div>
<div class="dc" style="left:402px;top:141px;width:47px;height:13px;background:#88d6b8"></div>
<div class="dt" style="left:402px;top:142px;width:47px;height:13px;line-height:13px;color:#16525a">345</div>
<div class="dc" style="left:449px;top:141px;width:47px;height:13px;background:#d0e8fa"></div>
<div class="dt" style="left:449px;top:142px;width:47px;height:13px;line-height:13px;color:#2a303e">393</div>
<div class="dc" style="left:496px;top:141px;width:48px;height:13px;background:#d0e8fa"></div>
<div class="dt" style="left:496px;top:142px;width:48px;height:13px;line-height:13px;color:#2a303e">397</div>
<div class="dc" style="left:544px;top:141px;width:47px;height:13px;background:#d0e8fa"></div>
<div class="dt" style="left:544px;top:142px;width:47px;height:13px;line-height:13px;color:#2a303e">394</div>
<div class="dc" style="left:591px;top:141px;width:47px;height:13px;background:#78d0a8"></div>
<div class="dt" style="left:591px;top:142px;width:47px;height:13px;line-height:13px;color:#15555a">332</div>
<div class="dc" style="left:638px;top:141px;width:47px;height:13px;background:#78d0a8"></div>
<div class="dt" style="left:638px;top:142px;width:47px;height:13px;line-height:13px;color:#15555a">336</div>
<div class="dc" style="left:685px;top:141px;width:48px;height:13px;background:#f5a3c3"></div>
<div class="dt" style="left:685px;top:142px;width:48px;height:13px;line-height:13px;color:#5e2262">565</div>
<div class="dc" style="left:402px;top:154px;width:47px;height:13px;background:#88d6b8"></div>
<div class="dt" style="left:402px;top:155px;width:47px;height:13px;line-height:13px;color:#16525a">346</div>
<div class="dc" style="left:449px;top:154px;width:47px;height:13px;background:#d0e8fa"></div>
<div class="dt" style="left:449px;top:155px;width:47px;height:13px;line-height:13px;color:#2a303e">394</div>
<div class="dc" style="left:496px;top:154px;width:48px;height:13px;background:#d0e8fa"></div>
<div class="dt" style="left:496px;top:155px;width:48px;height:13px;line-height:13px;color:#2a303e">397</div>
<div class="dc" style="left:544px;top:154px;width:47px;height:13px;background:#d0e8fa"></div>
<div class="dt" style="left:544px;top:155px;width:47px;height:13px;line-height:13px;color:#2a303e">394</div>
<div class="dc" style="left:591px;top:154px;width:47px;height:13px;background:#78d0a8"></div>
<div class="dt" style="left:591px;top:155px;width:47px;height:13px;line-height:13px;color:#15555a">332</div>
<div class="dc" style="left:638px;top:154px;width:47px;height:13px;background:#78d0a8"></div>
<div class="dt" style="left:638px;top:155px;width:47px;height:13px;line-height:13px;color:#15555a">336</div>
<div class="dc" style="left:685px;top:154px;width:48px;height:13px;background:#f5a3c3"></div>
<div class="dt" style="left:685px;top:155px;width:48px;height:13px;line-height:13px;color:#5e2262">565</div>
<div class="dc" style="left:402px;top:167px;width:47px;height:13px;background:#88d6b8"></div>
<div class="dt" style="left:402px;top:168px;width:47px;height:13px;line-height:13px;color:#16525a">346</div>
<div class="dc" style="left:449px;top:167px;width:47px;height:13px;background:#d0e8fa"></div>
<div class="dt" style="left:449px;top:168px;width:47px;height:13px;line-height:13px;color:#2a303e">394</div>
<div class="dc" style="left:496px;top:167px;width:48px;height:13px;background:#d0e8fa"></div>
<div class="dt" style="left:496px;top:168px;width:48px;height:13px;line-height:13px;color:#2a303e">397</div>
<div class="dc" style="left:544px;top:167px;width:47px;height:13px;background:#d0e8fa"></div>
<div class="dt" style="left:544px;top:168px;width:47px;height:13px;line-height:13px;color:#2a303e">395</div>
<div class="dc" style="left:591px;top:167px;width:47px;height:13px;background:#78d0a8"></div>
<div class="dt" style="left:591px;top:168px;width:47px;height:13px;line-height:13px;color:#15555a">332</div>
<div class="dc" style="left:638px;top:167px;width:47px;height:13px;background:#78d0a8"></div>
<div class="dt" style="left:638px;top:168px;width:47px;height:13px;line-height:13px;color:#15555a">337</div>
<div class="dc" style="left:685px;top:167px;width:48px;height:13px;background:#f5a3c3"></div>
<div class="dt" style="left:685px;top:168px;width:48px;height:13px;line-height:13px;color:#5e2262">566</div>
<div class="dc" style="left:402px;top:180px;width:47px;height:13px;background:#88d6b8"></div>
<div class="dt" style="left:402px;top:181px;width:47px;height:13px;line-height:13px;color:#16525a">346</div>
<div class="dc" style="left:449px;top:180px;width:47px;height:13px;background:#d0e8fa"></div>
<div class="dt" style="left:449px;top:181px;width:47px;height:13px;line-height:13px;color:#2a303e">394</div>
<div class="dc" style="left:496px;top:180px;width:48px;height:13px;background:#d0e8fa"></div>
<div class="dt" style="left:496px;top:181px;width:48px;height:13px;line-height:13px;color:#2a303e">398</div>
<div class="dc" style="left:544px;top:180px;width:47px;height:13px;background:#d0e8fa"></div>
<div class="dt" style="left:544px;top:181px;width:47px;height:13px;line-height:13px;color:#2a303e">395</div>
<div class="dc" style="left:591px;top:180px;width:47px;height:13px;background:#78d0a8"></div>
<div class="dt" style="left:591px;top:181px;width:47px;height:13px;line-height:13px;color:#15555a">333</div>
<div class="dc" style="left:638px;top:180px;width:47px;height:13px;background:#78d0a8"></div>
<div class="dt" style="left:638px;top:181px;width:47px;height:13px;line-height:13px;color:#15555a">337</div>
<div class="dc" style="left:685px;top:180px;width:48px;height:13px;background:#f5a3c3"></div>
<div class="dt" style="left:685px;top:181px;width:48px;height:13px;line-height:13px;color:#5e2262">566</div>
<div class="dc" style="left:402px;top:193px;width:47px;height:12px;background:#88d6b8"></div>
<div class="dt" style="left:402px;top:194px;width:47px;height:12px;line-height:12px;color:#16525a">346</div>
<div class="dc" style="left:449px;top:193px;width:47px;height:12px;background:#d0e8fa"></div>
<div class="dt" style="left:449px;top:194px;width:47px;height:12px;line-height:12px;color:#2a303e">395</div>
<div class="dc" style="left:496px;top:193px;width:48px;height:12px;background:#d0e8fa"></div>
<div class="dt" style="left:496px;top:194px;width:48px;height:12px;line-height:12px;color:#2a303e">398</div>
<div class="dc" style="left:544px;top:193px;width:47px;height:12px;background:#d0e8fa"></div>
<div class="dt" style="left:544px;top:194px;width:47px;height:12px;line-height:12px;color:#2a303e">395</div>
<div class="dc" style="left:591px;top:193px;width:47px;height:12px;background:#78d0a8"></div>
<div class="dt" style="left:591px;top:194px;width:47px;height:12px;line-height:12px;color:#15555a">333</div>
<div class="dc" style="left:638px;top:193px;width:47px;height:12px;background:#78d0a8"></div>
<div class="dt" style="left:638px;top:194px;width:47px;height:12px;line-height:12px;color:#15555a">337</div>
<div class="dc" style="left:685px;top:193px;width:48px;height:12px;background:#f5a3c3"></div>
<div class="dt" style="left:685px;top:194px;width:48px;height:12px;line-height:12px;color:#5e2262">566</div>
<div class="dc" style="left:402px;top:205px;width:47px;height:13px;background:#88d6b8"></div>
<div class="dt" style="left:402px;top:206px;width:47px;height:13px;line-height:13px;color:#16525a">346</div>
<div class="dc" style="left:449px;top:205px;width:47px;height:13px;background:#d0e8fa"></div>
<div class="dt" style="left:449px;top:206px;width:47px;height:13px;line-height:13px;color:#2a303e">394</div>
<div class="dc" style="left:496px;top:205px;width:48px;height:13px;background:#d0e8fa"></div>
<div class="dt" style="left:496px;top:206px;width:48px;height:13px;line-height:13px;color:#2a303e">398</div>
<div class="dc" style="left:544px;top:205px;width:47px;height:13px;background:#d0e8fa"></div>
<div class="dt" style="left:544px;top:206px;width:47px;height:13px;line-height:13px;color:#2a303e">395</div>
<div class="dc" style="left:591px;top:205px;width:47px;height:13px;background:#78d0a8"></div>
<div class="dt" style="left:591px;top:206px;width:47px;height:13px;line-height:13px;color:#15555a">333</div>
<div class="dc" style="left:638px;top:205px;width:47px;height:13px;background:#78d0a8"></div>
<div class="dt" style="left:638px;top:206px;width:47px;height:13px;line-height:13px;color:#15555a">337</div>
<div class="dc" style="left:685px;top:205px;width:48px;height:13px;background:#f5a3c3"></div>
<div class="dt" style="left:685px;top:206px;width:48px;height:13px;line-height:13px;color:#5e2262">566</div>
<div class="dc" style="left:402px;top:218px;width:47px;height:13px;background:#88d6b8"></div>
<div class="dt" style="left:402px;top:219px;width:47px;height:13px;line-height:13px;color:#16525a">346</div>
<div class="dc" style="left:449px;top:218px;width:47px;height:13px;background:#d0e8fa"></div>
<div class="dt" style="left:449px;top:219px;width:47px;height:13px;line-height:13px;color:#2a303e">394</div>
<div class="dc" style="left:496px;top:218px;width:48px;height:13px;background:#d0e8fa"></div>
<div class="dt" style="left:496px;top:219px;width:48px;height:13px;line-height:13px;color:#2a303e">397</div>
<div class="dc" style="left:544px;top:218px;width:47px;height:13px;background:#d0e8fa"></div>
<div class="dt" style="left:544px;top:219px;width:47px;height:13px;line-height:13px;color:#2a303e">395</div>
<div class="dc" style="left:591px;top:218px;width:47px;height:13px;background:#78d0a8"></div>
<div class="dt" style="left:591px;top:219px;width:47px;height:13px;line-height:13px;color:#15555a">332</div>
<div class="dc" style="left:638px;top:218px;width:47px;height:13px;background:#78d0a8"></div>
<div class="dt" style="left:638px;top:219px;width:47px;height:13px;line-height:13px;color:#15555a">337</div>
<div class="dc" style="left:685px;top:218px;width:48px;height:13px;background:#f5a3c3"></div>
<div class="dt" style="left:685px;top:219px;width:48px;height:13px;line-height:13px;color:#5e2262">566</div>
<div class="dc" style="left:402px;top:231px;width:47px;height:13px;background:#88d6b8"></div>
<div class="dt" style="left:402px;top:232px;width:47px;height:13px;line-height:13px;color:#16525a">346</div>
<div class="dc" style="left:449px;top:231px;width:47px;height:13px;background:#d0e8fa"></div>
<div class="dt" style="left:449px;top:232px;width:47px;height:13px;line-height:13px;color:#2a303e">394</div>
<div class="dc" style="left:496px;top:231px;width:48px;height:13px;background:#d0e8fa"></div>
<div class="dt" style="left:496px;top:232px;width:48px;height:13px;line-height:13px;color:#2a303e">397</div>
<div class="dc" style="left:544px;top:231px;width:47px;height:13px;background:#d0e8fa"></div>
<div class="dt" style="left:544px;top:232px;width:47px;height:13px;line-height:13px;color:#2a303e">394</div>
<div class="dc" style="left:591px;top:231px;width:47px;height:13px;background:#78d0a8"></div>
<div class="dt" style="left:591px;top:232px;width:47px;height:13px;line-height:13px;color:#15555a">332</div>
<div class="dc" style="left:638px;top:231px;width:47px;height:13px;background:#78d0a8"></div>
<div class="dt" style="left:638px;top:232px;width:47px;height:13px;line-height:13px;color:#15555a">336</div>
<div class="dc" style="left:685px;top:231px;width:48px;height:13px;background:#f5a3c3"></div>
<div class="dt" style="left:685px;top:232px;width:48px;height:13px;line-height:13px;color:#5e2262">565</div>
<div class="dc" style="left:402px;top:244px;width:47px;height:13px;background:#88d6b8"></div>
<div class="dt" style="left:402px;top:245px;width:47px;height:13px;line-height:13px;color:#16525a">345</div>
<div class="dc" style="left:449px;top:244px;width:47px;height:13px;background:#d0e8fa"></div>
<div class="dt" style="left:449px;top:245px;width:47px;height:13px;line-height:13px;color:#2a303e">393</div>
<div class="dc" style="left:496px;top:244px;width:48px;height:13px;background:#d0e8fa"></div>
<div class="dt" style="left:496px;top:245px;width:48px;height:13px;line-height:13px;color:#2a303e">397</div>
<div class="dc" style="left:544px;top:244px;width:47px;height:13px;background:#d0e8fa"></div>
<div class="dt" style="left:544px;top:245px;width:47px;height:13px;line-height:13px;color:#2a303e">394</div>
<div class="dc" style="left:591px;top:244px;width:47px;height:13px;background:#78d0a8"></div>
<div class="dt" style="left:591px;top:245px;width:47px;height:13px;line-height:13px;color:#15555a">332</div>
<div class="dc" style="left:638px;top:244px;width:47px;height:13px;background:#78d0a8"></div>
<div class="dt" style="left:638px;top:245px;width:47px;height:13px;line-height:13px;color:#15555a">336</div>
<div class="dc" style="left:685px;top:244px;width:48px;height:13px;background:#f5a3c3"></div>
<div class="dt" style="left:685px;top:245px;width:48px;height:13px;line-height:13px;color:#5e2262">565</div>
<div class="dc" style="left:402px;top:257px;width:47px;height:12px;background:#88d6b8"></div>
<div class="dt" style="left:402px;top:258px;width:47px;height:12px;line-height:12px;color:#16525a">345</div>
<div class="dc" style="left:449px;top:257px;width:47px;height:12px;background:#d0e8fa"></div>
<div class="dt" style="left:449px;top:258px;width:47px;height:12px;line-height:12px;color:#2a303e">393</div>
<div class="dc" style="left:496px;top:257px;width:48px;height:12px;background:#d0e8fa"></div>
<div class="dt" style="left:496px;top:258px;width:48px;height:12px;line-height:12px;color:#2a303e">397</div>
<div class="dc" style="left:544px;top:257px;width:47px;height:12px;background:#d0e8fa"></div>
<div class="dt" style="left:544px;top:258px;width:47px;height:12px;line-height:12px;color:#2a303e">394</div>
<div class="dc" style="left:591px;top:257px;width:47px;height:12px;background:#78d0a8"></div>
<div class="dt" style="left:591px;top:258px;width:47px;height:12px;line-height:12px;color:#15555a">332</div>
<div class="dc" style="left:638px;top:257px;width:47px;height:12px;background:#78d0a8"></div>
<div class="dt" style="left:638px;top:258px;width:47px;height:12px;line-height:12px;color:#15555a">336</div>
<div class="dc" style="left:685px;top:257px;width:48px;height:12px;background:#f5a3c3"></div>
<div class="dt" style="left:685px;top:258px;width:48px;height:12px;line-height:12px;color:#5e2262">564</div>
<div class="dc" style="left:402px;top:269px;width:47px;height:13px;background:#88d6b8"></div>
<div class="dt" style="left:402px;top:270px;width:47px;height:13px;line-height:13px;color:#16525a">345</div>
<div class="dc" style="left:449px;top:269px;width:47px;height:13px;background:#d0e8fa"></div>
<div class="dt" style="left:449px;top:270px;width:47px;height:13px;line-height:13px;color:#2a303e">393</div>
<div class="dc" style="left:496px;top:269px;width:48px;height:13px;background:#d0e8fa"></div>
<div class="dt" style="left:496px;top:270px;width:48px;height:13px;line-height:13px;color:#2a303e">396</div>
<div class="dc" style="left:544px;top:269px;width:47px;height:13px;background:#d0e8fa"></div>
<div class="dt" style="left:544px;top:270px;width:47px;height:13px;line-height:13px;color:#2a303e">393</div>
<div class="dc" style="left:591px;top:269px;width:47px;height:13px;background:#78d0a8"></div>
<div class="dt" style="left:591px;top:270px;width:47px;height:13px;line-height:13px;color:#15555a">331</div>
<div class="dc" style="left:638px;top:269px;width:47px;height:13px;background:#78d0a8"></div>
<div class="dt" style="left:638px;top:270px;width:47px;height:13px;line-height:13px;color:#15555a">336</div>
<div class="dc" style="left:685px;top:269px;width:48px;height:13px;background:#f5a3c3"></div>
<div class="dt" style="left:685px;top:270px;width:48px;height:13px;line-height:13px;color:#5e2262">564</div>
<div class="dc" style="left:402px;top:282px;width:47px;height:13px;background:#88d6b8"></div>
<div class="dt" style="left:402px;top:283px;width:47px;height:13px;line-height:13px;color:#16525a">344</div>
<div class="dc" style="left:449px;top:282px;width:47px;height:13px;background:#d0e8fa"></div>
<div class="dt" style="left:449px;top:283px;width:47px;height:13px;line-height:13px;color:#2a303e">392</div>
<div class="dc" style="left:496px;top:282px;width:48px;height:13px;background:#d0e8fa"></div>
<div class="dt" style="left:496px;top:283px;width:48px;height:13px;line-height:13px;color:#2a303e">396</div>
<div class="dc" style="left:544px;top:282px;width:47px;height:13px;background:#d0e8fa"></div>
<div class="dt" style="left:544px;top:283px;width:47px;height:13px;line-height:13px;color:#2a303e">393</div>
<div class="dc" style="left:591px;top:282px;width:47px;height:13px;background:#78d0a8"></div>
<div class="dt" style="left:591px;top:283px;width:47px;height:13px;line-height:13px;color:#15555a">331</div>
<div class="dc" style="left:638px;top:282px;width:47px;height:13px;background:#78d0a8"></div>
<div class="dt" style="left:638px;top:283px;width:47px;height:13px;line-height:13px;color:#15555a">335</div>
<div class="dc" style="left:685px;top:282px;width:48px;height:13px;background:#f5a3c3"></div>
<div class="dt" style="left:685px;top:283px;width:48px;height:13px;line-height:13px;color:#5e2262">563</div>
<div class="dc" style="left:402px;top:295px;width:47px;height:13px;background:#d2e8fc"></div>
<div class="dt" style="left:402px;top:296px;width:47px;height:13px;line-height:13px;color:#4a5264">-</div>
<div class="dc" style="left:449px;top:295px;width:47px;height:13px;background:#d2e8fc"></div>
<div class="dt" style="left:449px;top:296px;width:47px;height:13px;line-height:13px;color:#4a5264">-</div>
<div class="dc" style="left:496px;top:295px;width:48px;height:13px;background:#d2e8fc"></div>
<div class="dt" style="left:496px;top:296px;width:48px;height:13px;line-height:13px;color:#4a5264">-</div>
<div class="dc" style="left:544px;top:295px;width:47px;height:13px;background:#d2e8fc"></div>
<div class="dt" style="left:544px;top:296px;width:47px;height:13px;line-height:13px;color:#4a5264">-</div>
<div class="dc" style="left:591px;top:295px;width:47px;height:13px;background:#d2e8fc"></div>
<div class="dt" style="left:591px;top:296px;width:47px;height:13px;line-height:13px;color:#4a5264">-</div>
<div class="dc" style="left:638px;top:295px;width:47px;height:13px;background:#d2e8fc"></div>
<div class="dt" style="left:638px;top:296px;width:47px;height:13px;line-height:13px;color:#4a5264">-</div>
<div class="dc" style="left:685px;top:295px;width:48px;height:13px;background:#d2e8fc"></div>
<div class="dt" style="left:685px;top:296px;width:48px;height:13px;line-height:13px;color:#4a5264">-</div>
<div class="dc" style="left:402px;top:308px;width:47px;height:13px;background:#88d6b8"></div>
<div class="dt" style="left:402px;top:309px;width:47px;height:13px;line-height:13px;color:#16525a">344</div>
<div class="dc" style="left:449px;top:308px;width:47px;height:13px;background:#d0e8fa"></div>
<div class="dt" style="left:449px;top:309px;width:47px;height:13px;line-height:13px;color:#2a303e">392</div>
<div class="dc" style="left:496px;top:308px;width:48px;height:13px;background:#d0e8fa"></div>
<div class="dt" style="left:496px;top:309px;width:48px;height:13px;line-height:13px;color:#2a303e">395</div>
<div class="dc" style="left:544px;top:308px;width:47px;height:13px;background:#d0e8fa"></div>
<div class="dt" style="left:544px;top:309px;width:47px;height:13px;line-height:13px;color:#2a303e">392</div>
<div class="dc" style="left:591px;top:308px;width:47px;height:13px;background:#78d0a8"></div>
<div class="dt" style="left:591px;top:309px;width:47px;height:13px;line-height:13px;color:#15555a">331</div>
<div class="dc" style="left:638px;top:308px;width:47px;height:13px;background:#78d0a8"></div>
<div class="dt" style="left:638px;top:309px;width:47px;height:13px;line-height:13px;color:#15555a">335</div>
<div class="dc" style="left:685px;top:308px;width:48px;height:13px;background:#f5a3c3"></div>
<div class="dt" style="left:685px;top:309px;width:48px;height:13px;line-height:13px;color:#5e2262">563</div>
<div class="dc" style="left:402px;top:321px;width:47px;height:12px;background:#88d6b8"></div>
<div class="dt" style="left:402px;top:322px;width:47px;height:12px;line-height:12px;color:#16525a">344</div>
<div class="dc" style="left:449px;top:321px;width:47px;height:12px;background:#d0e8fa"></div>
<div class="dt" style="left:449px;top:322px;width:47px;height:12px;line-height:12px;color:#2a303e">392</div>
<div class="dc" style="left:496px;top:321px;width:48px;height:12px;background:#d0e8fa"></div>
<div class="dt" style="left:496px;top:322px;width:48px;height:12px;line-height:12px;color:#2a303e">395</div>
<div class="dc" style="left:544px;top:321px;width:47px;height:12px;background:#d0e8fa"></div>
<div class="dt" style="left:544px;top:322px;width:47px;height:12px;line-height:12px;color:#2a303e">392</div>
<div class="dc" style="left:591px;top:321px;width:47px;height:12px;background:#78d0a8"></div>
<div class="dt" style="left:591px;top:322px;width:47px;height:12px;line-height:12px;color:#15555a">331</div>
<div class="dc" style="left:638px;top:321px;width:47px;height:12px;background:#78d0a8"></div>
<div class="dt" style="left:638px;top:322px;width:47px;height:12px;line-height:12px;color:#15555a">335</div>
<div class="dc" style="left:685px;top:321px;width:48px;height:12px;background:#f5a3c3"></div>
<div class="dt" style="left:685px;top:322px;width:48px;height:12px;line-height:12px;color:#5e2262">563</div>
<div class="dc" style="left:402px;top:333px;width:47px;height:13px;background:#88d6b8"></div>
<div class="dt" style="left:402px;top:334px;width:47px;height:13px;line-height:13px;color:#16525a">344</div>
<div class="dc" style="left:449px;top:333px;width:47px;height:13px;background:#d0e8fa"></div>
<div class="dt" style="left:449px;top:334px;width:47px;height:13px;line-height:13px;color:#2a303e">392</div>
<div class="dc" style="left:496px;top:333px;width:48px;height:13px;background:#d0e8fa"></div>
<div class="dt" style="left:496px;top:334px;width:48px;height:13px;line-height:13px;color:#2a303e">395</div>
<div class="dc" style="left:544px;top:333px;width:47px;height:13px;background:#d0e8fa"></div>
<div class="dt" style="left:544px;top:334px;width:47px;height:13px;line-height:13px;color:#2a303e">392</div>
<div class="dc" style="left:591px;top:333px;width:47px;height:13px;background:#78d0a8"></div>
<div class="dt" style="left:591px;top:334px;width:47px;height:13px;line-height:13px;color:#15555a">330</div>
<div class="dc" style="left:638px;top:333px;width:47px;height:13px;background:#78d0a8"></div>
<div class="dt" style="left:638px;top:334px;width:47px;height:13px;line-height:13px;color:#15555a">335</div>
<div class="dc" style="left:685px;top:333px;width:48px;height:13px;background:#f5a3c3"></div>
<div class="dt" style="left:685px;top:334px;width:48px;height:13px;line-height:13px;color:#5e2262">563</div>
<div class="dc" style="left:402px;top:346px;width:47px;height:13px;background:#88d6b8"></div>
<div class="dt" style="left:402px;top:347px;width:47px;height:13px;line-height:13px;color:#16525a">343</div>
<div class="dc" style="left:449px;top:346px;width:47px;height:13px;background:#d0e8fa"></div>
<div class="dt" style="left:449px;top:347px;width:47px;height:13px;line-height:13px;color:#2a303e">391</div>
<div class="dc" style="left:496px;top:346px;width:48px;height:13px;background:#d0e8fa"></div>
<div class="dt" style="left:496px;top:347px;width:48px;height:13px;line-height:13px;color:#2a303e">395</div>
<div class="dc" style="left:544px;top:346px;width:47px;height:13px;background:#d0e8fa"></div>
<div class="dt" style="left:544px;top:347px;width:47px;height:13px;line-height:13px;color:#2a303e">392</div>
<div class="dc" style="left:591px;top:346px;width:47px;height:13px;background:#78d0a8"></div>
<div class="dt" style="left:591px;top:347px;width:47px;height:13px;line-height:13px;color:#15555a">330</div>
<div class="dc" style="left:638px;top:346px;width:47px;height:13px;background:#78d0a8"></div>
<div class="dt" style="left:638px;top:347px;width:47px;height:13px;line-height:13px;color:#15555a">334</div>
<div class="dc" style="left:685px;top:346px;width:48px;height:13px;background:#f5a3c3"></div>
<div class="dt" style="left:685px;top:347px;width:48px;height:13px;line-height:13px;color:#5e2262">562</div>
<div class="dc" style="left:402px;top:359px;width:47px;height:13px;background:#88d6b8"></div>
<div class="dt" style="left:402px;top:360px;width:47px;height:13px;line-height:13px;color:#16525a">343</div>
<div class="dc" style="left:449px;top:359px;width:47px;height:13px;background:#d0e8fa"></div>
<div class="dt" style="left:449px;top:360px;width:47px;height:13px;line-height:13px;color:#2a303e">391</div>
<div class="dc" style="left:496px;top:359px;width:48px;height:13px;background:#d0e8fa"></div>
<div class="dt" style="left:496px;top:360px;width:48px;height:13px;line-height:13px;color:#2a303e">395</div>
<div class="dc" style="left:544px;top:359px;width:47px;height:13px;background:#d0e8fa"></div>
<div class="dt" style="left:544px;top:360px;width:47px;height:13px;line-height:13px;color:#2a303e">392</div>
<div class="dc" style="left:591px;top:359px;width:47px;height:13px;background:#78d0a8"></div>
<div class="dt" style="left:591px;top:360px;width:47px;height:13px;line-height:13px;color:#15555a">330</div>
<div class="dc" style="left:638px;top:359px;width:47px;height:13px;background:#78d0a8"></div>
<div class="dt" style="left:638px;top:360px;width:47px;height:13px;line-height:13px;color:#15555a">334</div>
<div class="dc" style="left:685px;top:359px;width:48px;height:13px;background:#f5a3c3"></div>
<div class="dt" style="left:685px;top:360px;width:48px;height:13px;line-height:13px;color:#5e2262">562</div>
<div class="dc" style="left:402px;top:372px;width:47px;height:13px;background:#88d6b8"></div>
<div class="dt" style="left:402px;top:373px;width:47px;height:13px;line-height:13px;color:#16525a">343</div>
<div class="dc" style="left:449px;top:372px;width:47px;height:13px;background:#d0e8fa"></div>
<div class="dt" style="left:449px;top:373px;width:47px;height:13px;line-height:13px;color:#2a303e">391</div>
<div class="dc" style="left:496px;top:372px;width:48px;height:13px;background:#d0e8fa"></div>
<div class="dt" style="left:496px;top:373px;width:48px;height:13px;line-height:13px;color:#2a303e">394</div>
<div class="dc" style="left:544px;top:372px;width:47px;height:13px;background:#d0e8fa"></div>
<div class="dt" style="left:544px;top:373px;width:47px;height:13px;line-height:13px;color:#2a303e">391</div>
<div class="dc" style="left:591px;top:372px;width:47px;height:13px;background:#78d0a8"></div>
<div class="dt" style="left:591px;top:373px;width:47px;height:13px;line-height:13px;color:#15555a">329</div>
<div class="dc" style="left:638px;top:372px;width:47px;height:13px;background:#78d0a8"></div>
<div class="dt" style="left:638px;top:373px;width:47px;height:13px;line-height:13px;color:#15555a">334</div>
<div class="dc" style="left:685px;top:372px;width:48px;height:13px;background:#f5a3c3"></div>
<div class="dt" style="left:685px;top:373px;width:48px;height:13px;line-height:13px;color:#5e2262">561</div>
<div class="dc" style="left:402px;top:385px;width:47px;height:12px;background:#88d6b8"></div>
<div class="dt" style="left:402px;top:386px;width:47px;height:12px;line-height:12px;color:#16525a">343</div>
<div class="dc" style="left:449px;top:385px;width:47px;height:12px;background:#d0e8fa"></div>
<div class="dt" style="left:449px;top:386px;width:47px;height:12px;line-height:12px;color:#2a303e">390</div>
<div class="dc" style="left:496px;top:385px;width:48px;height:12px;background:#d0e8fa"></div>
<div class="dt" style="left:496px;top:386px;width:48px;height:12px;line-height:12px;color:#2a303e">394</div>
<div class="dc" style="left:544px;top:385px;width:47px;height:12px;background:#d0e8fa"></div>
<div class="dt" style="left:544px;top:386px;width:47px;height:12px;line-height:12px;color:#2a303e">391</div>
<div class="dc" style="left:591px;top:385px;width:47px;height:12px;background:#78d0a8"></div>
<div class="dt" style="left:591px;top:386px;width:47px;height:12px;line-height:12px;color:#15555a">329</div>
<div class="dc" style="left:638px;top:385px;width:47px;height:12px;background:#78d0a8"></div>
<div class="dt" style="left:638px;top:386px;width:47px;height:12px;line-height:12px;color:#15555a">334</div>
<div class="dc" style="left:685px;top:385px;width:48px;height:12px;background:#f5a3c3"></div>
<div class="dt" style="left:685px;top:386px;width:48px;height:12px;line-height:12px;color:#5e2262">561</div>
<div class="dc" style="left:402px;top:397px;width:47px;height:13px;background:#88d6b8"></div>
<div class="dt" style="left:402px;top:398px;width:47px;height:13px;line-height:13px;color:#16525a">342</div>
<div class="dc" style="left:449px;top:397px;width:47px;height:13px;background:#d0e8fa"></div>
<div class="dt" style="left:449px;top:398px;width:47px;height:13px;line-height:13px;color:#2a303e">390</div>
<div class="dc" style="left:496px;top:397px;width:48px;height:13px;background:#d0e8fa"></div>
<div class="dt" style="left:496px;top:398px;width:48px;height:13px;line-height:13px;color:#2a303e">394</div>
<div class="dc" style="left:544px;top:397px;width:47px;height:13px;background:#d0e8fa"></div>
<div class="dt" style="left:544px;top:398px;width:47px;height:13px;line-height:13px;color:#2a303e">391</div>
<div class="dc" style="left:591px;top:397px;width:47px;height:13px;background:#78d0a8"></div>
<div class="dt" style="left:591px;top:398px;width:47px;height:13px;line-height:13px;color:#15555a">329</div>
<div class="dc" style="left:638px;top:397px;width:47px;height:13px;background:#78d0a8"></div>
<div class="dt" style="left:638px;top:398px;width:47px;height:13px;line-height:13px;color:#15555a">333</div>
<div class="dc" style="left:685px;top:397px;width:48px;height:13px;background:#f5a3c3"></div>
<div class="dt" style="left:685px;top:398px;width:48px;height:13px;line-height:13px;color:#5e2262">561</div>
<div class="dc" style="left:402px;top:410px;width:47px;height:13px;background:#88d6b8"></div>
<div class="dt" style="left:402px;top:411px;width:47px;height:13px;line-height:13px;color:#16525a">342</div>
<div class="dc" style="left:449px;top:410px;width:47px;height:13px;background:#d0e8fa"></div>
<div class="dt" style="left:449px;top:411px;width:47px;height:13px;line-height:13px;color:#2a303e">390</div>
<div class="dc" style="left:496px;top:410px;width:48px;height:13px;background:#d0e8fa"></div>
<div class="dt" style="left:496px;top:411px;width:48px;height:13px;line-height:13px;color:#2a303e">393</div>
<div class="dc" style="left:544px;top:410px;width:47px;height:13px;background:#d0e8fa"></div>
<div class="dt" style="left:544px;top:411px;width:47px;height:13px;line-height:13px;color:#2a303e">390</div>
<div class="dc" style="left:591px;top:410px;width:47px;height:13px;background:#78d0a8"></div>
<div class="dt" style="left:591px;top:411px;width:47px;height:13px;line-height:13px;color:#15555a">329</div>
<div class="dc" style="left:638px;top:410px;width:47px;height:13px;background:#78d0a8"></div>
<div class="dt" style="left:638px;top:411px;width:47px;height:13px;line-height:13px;color:#15555a">333</div>
<div class="dc" style="left:685px;top:410px;width:48px;height:13px;background:#f5a3c3"></div>
<div class="dt" style="left:685px;top:411px;width:48px;height:13px;line-height:13px;color:#5e2262">560</div>
<div class="dc" style="left:402px;top:423px;width:47px;height:13px;background:#88d6b8"></div>
<div class="dt" style="left:402px;top:424px;width:47px;height:13px;line-height:13px;color:#16525a">342</div>
<div class="dc" style="left:449px;top:423px;width:47px;height:13px;background:#d0e8fa"></div>
<div class="dt" style="left:449px;top:424px;width:47px;height:13px;line-height:13px;color:#2a303e">390</div>
<div class="dc" style="left:496px;top:423px;width:48px;height:13px;background:#d0e8fa"></div>
<div class="dt" style="left:496px;top:424px;width:48px;height:13px;line-height:13px;color:#2a303e">393</div>
<div class="dc" style="left:544px;top:423px;width:47px;height:13px;background:#d0e8fa"></div>
<div class="dt" style="left:544px;top:424px;width:47px;height:13px;line-height:13px;color:#2a303e">390</div>
<div class="dc" style="left:591px;top:423px;width:47px;height:13px;background:#78d0a8"></div>
<div class="dt" style="left:591px;top:424px;width:47px;height:13px;line-height:13px;color:#15555a">328</div>
<div class="dc" style="left:638px;top:423px;width:47px;height:13px;background:#78d0a8"></div>
<div class="dt" style="left:638px;top:424px;width:47px;height:13px;line-height:13px;color:#15555a">333</div>
<div class="dc" style="left:685px;top:423px;width:48px;height:13px;background:#f5a3c3"></div>
<div class="dt" style="left:685px;top:424px;width:48px;height:13px;line-height:13px;color:#5e2262">560</div>
<div class="dc" style="left:402px;top:436px;width:47px;height:13px;background:#88d6b8"></div>
<div class="dt" style="left:402px;top:437px;width:47px;height:13px;line-height:13px;color:#16525a">342</div>
<div class="dc" style="left:449px;top:436px;width:47px;height:13px;background:#d0e8fa"></div>
<div class="dt" style="left:449px;top:437px;width:47px;height:13px;line-height:13px;color:#2a303e">389</div>
<div class="dc" style="left:496px;top:436px;width:48px;height:13px;background:#d0e8fa"></div>
<div class="dt" style="left:496px;top:437px;width:48px;height:13px;line-height:13px;color:#2a303e">393</div>
<div class="dc" style="left:544px;top:436px;width:47px;height:13px;background:#d0e8fa"></div>
<div class="dt" style="left:544px;top:437px;width:47px;height:13px;line-height:13px;color:#2a303e">390</div>
<div class="dc" style="left:591px;top:436px;width:47px;height:13px;background:#78d0a8"></div>
<div class="dt" style="left:591px;top:437px;width:47px;height:13px;line-height:13px;color:#15555a">328</div>
<div class="dc" style="left:638px;top:436px;width:47px;height:13px;background:#78d0a8"></div>
<div class="dt" style="left:638px;top:437px;width:47px;height:13px;line-height:13px;color:#15555a">333</div>
<div class="dc" style="left:685px;top:436px;width:48px;height:13px;background:#f5a3c3"></div>
<div class="dt" style="left:685px;top:437px;width:48px;height:13px;line-height:13px;color:#5e2262">559</div>
<div class="dc" style="left:402px;top:449px;width:47px;height:12px;background:#88d6b8"></div>
<div class="dt" style="left:402px;top:450px;width:47px;height:12px;line-height:12px;color:#16525a">341</div>
<div class="dc" style="left:449px;top:449px;width:47px;height:12px;background:#d0e8fa"></div>
<div class="dt" style="left:449px;top:450px;width:47px;height:12px;line-height:12px;color:#2a303e">389</div>
<div class="dc" style="left:496px;top:449px;width:48px;height:12px;background:#d0e8fa"></div>
<div class="dt" style="left:496px;top:450px;width:48px;height:12px;line-height:12px;color:#2a303e">392</div>
<div class="dc" style="left:544px;top:449px;width:47px;height:12px;background:#d0e8fa"></div>
<div class="dt" style="left:544px;top:450px;width:47px;height:12px;line-height:12px;color:#2a303e">389</div>
<div class="dc" style="left:591px;top:449px;width:47px;height:12px;background:#78d0a8"></div>
<div class="dt" style="left:591px;top:450px;width:47px;height:12px;line-height:12px;color:#15555a">328</div>
<div class="dc" style="left:638px;top:449px;width:47px;height:12px;background:#78d0a8"></div>
<div class="dt" style="left:638px;top:450px;width:47px;height:12px;line-height:12px;color:#15555a">332</div>
<div class="dc" style="left:685px;top:449px;width:48px;height:12px;background:#f5a3c3"></div>
<div class="dt" style="left:685px;top:450px;width:48px;height:12px;line-height:12px;color:#5e2262">559</div>
<div class="dc" style="left:402px;top:461px;width:47px;height:13px;background:#88d6b8"></div>
<div class="dt" style="left:402px;top:462px;width:47px;height:13px;line-height:13px;color:#16525a">341</div>
<div class="dc" style="left:449px;top:461px;width:47px;height:13px;background:#d0e8fa"></div>
<div class="dt" style="left:449px;top:462px;width:47px;height:13px;line-height:13px;color:#2a303e">389</div>
<div class="dc" style="left:496px;top:461px;width:48px;height:13px;background:#d0e8fa"></div>
<div class="dt" style="left:496px;top:462px;width:48px;height:13px;line-height:13px;color:#2a303e">392</div>
<div class="dc" style="left:544px;top:461px;width:47px;height:13px;background:#d0e8fa"></div>
<div class="dt" style="left:544px;top:462px;width:47px;height:13px;line-height:13px;color:#2a303e">389</div>
<div class="dc" style="left:591px;top:461px;width:47px;height:13px;background:#78d0a8"></div>
<div class="dt" style="left:591px;top:462px;width:47px;height:13px;line-height:13px;color:#15555a">328</div>
<div class="dc" style="left:638px;top:461px;width:47px;height:13px;background:#78d0a8"></div>
<div class="dt" style="left:638px;top:462px;width:47px;height:13px;line-height:13px;color:#15555a">332</div>
<div class="dc" style="left:685px;top:461px;width:48px;height:13px;background:#f5a3c3"></div>
<div class="dt" style="left:685px;top:462px;width:48px;height:13px;line-height:13px;color:#5e2262">559</div>
<div class="dc" style="left:402px;top:474px;width:47px;height:13px;background:#88d6b8"></div>
<div class="dt" style="left:402px;top:475px;width:47px;height:13px;line-height:13px;color:#16525a">340</div>
<div class="dc" style="left:449px;top:474px;width:47px;height:13px;background:#d0e8fa"></div>
<div class="dt" style="left:449px;top:475px;width:47px;height:13px;line-height:13px;color:#2a303e">388</div>
<div class="dc" style="left:496px;top:474px;width:48px;height:13px;background:#d0e8fa"></div>
<div class="dt" style="left:496px;top:475px;width:48px;height:13px;line-height:13px;color:#2a303e">391</div>
<div class="dc" style="left:544px;top:474px;width:47px;height:13px;background:#d0e8fa"></div>
<div class="dt" style="left:544px;top:475px;width:47px;height:13px;line-height:13px;color:#2a303e">388</div>
<div class="dc" style="left:591px;top:474px;width:47px;height:13px;background:#78d0a8"></div>
<div class="dt" style="left:591px;top:475px;width:47px;height:13px;line-height:13px;color:#15555a">326</div>
<div class="dc" style="left:638px;top:474px;width:47px;height:13px;background:#78d0a8"></div>
<div class="dt" style="left:638px;top:475px;width:47px;height:13px;line-height:13px;color:#15555a">330</div>
<div class="dc" style="left:685px;top:474px;width:48px;height:13px;background:#f5a3c3"></div>
<div class="dt" style="left:685px;top:475px;width:48px;height:13px;line-height:13px;color:#5e2262">557</div>
<div class="dc" style="left:402px;top:487px;width:47px;height:13px;background:#88d6b8"></div>
<div class="dt" style="left:402px;top:488px;width:47px;height:13px;line-height:13px;color:#16525a">339</div>
<div class="dc" style="left:449px;top:487px;width:47px;height:13px;background:#d0e8fa"></div>
<div class="dt" style="left:449px;top:488px;width:47px;height:13px;line-height:13px;color:#2a303e">387</div>
<div class="dc" style="left:496px;top:487px;width:48px;height:13px;background:#d0e8fa"></div>
<div class="dt" style="left:496px;top:488px;width:48px;height:13px;line-height:13px;color:#2a303e">391</div>
<div class="dc" style="left:544px;top:487px;width:47px;height:13px;background:#d0e8fa"></div>
<div class="dt" style="left:544px;top:488px;width:47px;height:13px;line-height:13px;color:#2a303e">388</div>
<div class="dc" style="left:591px;top:487px;width:47px;height:13px;background:#78d0a8"></div>
<div class="dt" style="left:591px;top:488px;width:47px;height:13px;line-height:13px;color:#15555a">326</div>
<div class="dc" style="left:638px;top:487px;width:47px;height:13px;background:#78d0a8"></div>
<div class="dt" style="left:638px;top:488px;width:47px;height:13px;line-height:13px;color:#15555a">330</div>
<div class="dc" style="left:685px;top:487px;width:48px;height:13px;background:#f5a3c3"></div>
<div class="dt" style="left:685px;top:488px;width:48px;height:13px;line-height:13px;color:#5e2262">556</div>
<div class="dc" style="left:402px;top:500px;width:47px;height:13px;background:#88d6b8"></div>
<div class="dt" style="left:402px;top:501px;width:47px;height:13px;line-height:13px;color:#16525a">339</div>
<div class="dc" style="left:449px;top:500px;width:47px;height:13px;background:#d0e8fa"></div>
<div class="dt" style="left:449px;top:501px;width:47px;height:13px;line-height:13px;color:#2a303e">387</div>
<div class="dc" style="left:496px;top:500px;width:48px;height:13px;background:#d0e8fa"></div>
<div class="dt" style="left:496px;top:501px;width:48px;height:13px;line-height:13px;color:#2a303e">390</div>
<div class="dc" style="left:544px;top:500px;width:47px;height:13px;background:#d0e8fa"></div>
<div class="dt" style="left:544px;top:501px;width:47px;height:13px;line-height:13px;color:#2a303e">387</div>
<div class="dc" style="left:591px;top:500px;width:47px;height:13px;background:#78d0a8"></div>
<div class="dt" style="left:591px;top:501px;width:47px;height:13px;line-height:13px;color:#15555a">325</div>
<div class="dc" style="left:638px;top:500px;width:47px;height:13px;background:#78d0a8"></div>
<div class="dt" style="left:638px;top:501px;width:47px;height:13px;line-height:13px;color:#15555a">330</div>
<div class="dc" style="left:685px;top:500px;width:48px;height:13px;background:#f5a3c3"></div>
<div class="dt" style="left:685px;top:501px;width:48px;height:13px;line-height:13px;color:#5e2262">556</div>
<div class="dc" style="left:402px;top:513px;width:47px;height:12px;background:#d2e8fc"></div>
<div class="dt" style="left:402px;top:514px;width:47px;height:12px;line-height:12px;color:#4a5264">-</div>
<div class="dc" style="left:449px;top:513px;width:47px;height:12px;background:#d2e8fc"></div>
<div class="dt" style="left:449px;top:514px;width:47px;height:12px;line-height:12px;color:#4a5264">-</div>
<div class="dc" style="left:496px;top:513px;width:48px;height:12px;background:#d2e8fc"></div>
<div class="dt" style="left:496px;top:514px;width:48px;height:12px;line-height:12px;color:#4a5264">-</div>
<div class="dc" style="left:544px;top:513px;width:47px;height:12px;background:#d2e8fc"></div>
<div class="dt" style="left:544px;top:514px;width:47px;height:12px;line-height:12px;color:#4a5264">-</div>
<div class="dc" style="left:591px;top:513px;width:47px;height:12px;background:#d2e8fc"></div>
<div class="dt" style="left:591px;top:514px;width:47px;height:12px;line-height:12px;color:#4a5264">-</div>
<div class="dc" style="left:638px;top:513px;width:47px;height:12px;background:#d2e8fc"></div>
<div class="dt" style="left:638px;top:514px;width:47px;height:12px;line-height:12px;color:#4a5264">-</div>
<div class="dc" style="left:685px;top:513px;width:48px;height:12px;background:#d2e8fc"></div>
<div class="dt" style="left:685px;top:514px;width:48px;height:12px;line-height:12px;color:#4a5264">-</div>
<div class="dc" style="left:402px;top:525px;width:47px;height:13px;background:#88d6b8"></div>
<div class="dt" style="left:402px;top:526px;width:47px;height:13px;line-height:13px;color:#16525a">339</div>
<div class="dc" style="left:449px;top:525px;width:47px;height:13px;background:#d0e8fa"></div>
<div class="dt" style="left:449px;top:526px;width:47px;height:13px;line-height:13px;color:#2a303e">387</div>
<div class="dc" style="left:496px;top:525px;width:48px;height:13px;background:#d0e8fa"></div>
<div class="dt" style="left:496px;top:526px;width:48px;height:13px;line-height:13px;color:#2a303e">390</div>
<div class="dc" style="left:544px;top:525px;width:47px;height:13px;background:#d0e8fa"></div>
<div class="dt" style="left:544px;top:526px;width:47px;height:13px;line-height:13px;color:#2a303e">387</div>
<div class="dc" style="left:591px;top:525px;width:47px;height:13px;background:#78d0a8"></div>
<div class="dt" style="left:591px;top:526px;width:47px;height:13px;line-height:13px;color:#15555a">325</div>
<div class="dc" style="left:638px;top:525px;width:47px;height:13px;background:#78d0a8"></div>
<div class="dt" style="left:638px;top:526px;width:47px;height:13px;line-height:13px;color:#15555a">329</div>
<div class="dc" style="left:685px;top:525px;width:48px;height:13px;background:#f5a3c3"></div>
<div class="dt" style="left:685px;top:526px;width:48px;height:13px;line-height:13px;color:#5e2262">555</div>
<div class="dc" style="left:402px;top:538px;width:47px;height:13px;background:#88d6b8"></div>
<div class="dt" style="left:402px;top:539px;width:47px;height:13px;line-height:13px;color:#16525a">339</div>
<div class="dc" style="left:449px;top:538px;width:47px;height:13px;background:#d0e8fa"></div>
<div class="dt" style="left:449px;top:539px;width:47px;height:13px;line-height:13px;color:#2a303e">387</div>
<div class="dc" style="left:496px;top:538px;width:48px;height:13px;background:#d0e8fa"></div>
<div class="dt" style="left:496px;top:539px;width:48px;height:13px;line-height:13px;color:#2a303e">390</div>
<div class="dc" style="left:544px;top:538px;width:47px;height:13px;background:#d0e8fa"></div>
<div class="dt" style="left:544px;top:539px;width:47px;height:13px;line-height:13px;color:#2a303e">387</div>
<div class="dc" style="left:591px;top:538px;width:47px;height:13px;background:#78d0a8"></div>
<div class="dt" style="left:591px;top:539px;width:47px;height:13px;line-height:13px;color:#15555a">325</div>
<div class="dc" style="left:638px;top:538px;width:47px;height:13px;background:#78d0a8"></div>
<div class="dt" style="left:638px;top:539px;width:47px;height:13px;line-height:13px;color:#15555a">329</div>
<div class="dc" style="left:685px;top:538px;width:48px;height:13px;background:#f5a3c3"></div>
<div class="dt" style="left:685px;top:539px;width:48px;height:13px;line-height:13px;color:#5e2262">555</div>
<div class="dc" style="left:402px;top:551px;width:47px;height:13px;background:#88d6b8"></div>
<div class="dt" style="left:402px;top:552px;width:47px;height:13px;line-height:13px;color:#16525a">338</div>
<div class="dc" style="left:449px;top:551px;width:47px;height:13px;background:#d0e8fa"></div>
<div class="dt" style="left:449px;top:552px;width:47px;height:13px;line-height:13px;color:#2a303e">386</div>
<div class="dc" style="left:496px;top:551px;width:48px;height:13px;background:#d0e8fa"></div>
<div class="dt" style="left:496px;top:552px;width:48px;height:13px;line-height:13px;color:#2a303e">390</div>
<div class="dc" style="left:544px;top:551px;width:47px;height:13px;background:#d0e8fa"></div>
<div class="dt" style="left:544px;top:552px;width:47px;height:13px;line-height:13px;color:#2a303e">387</div>
<div class="dc" style="left:591px;top:551px;width:47px;height:13px;background:#78d0a8"></div>
<div class="dt" style="left:591px;top:552px;width:47px;height:13px;line-height:13px;color:#15555a">325</div>
<div class="dc" style="left:638px;top:551px;width:47px;height:13px;background:#78d0a8"></div>
<div class="dt" style="left:638px;top:552px;width:47px;height:13px;line-height:13px;color:#15555a">329</div>
<div class="dc" style="left:685px;top:551px;width:48px;height:13px;background:#f5a3c3"></div>
<div class="dt" style="left:685px;top:552px;width:48px;height:13px;line-height:13px;color:#5e2262">555</div>
<div class="dc" style="left:402px;top:564px;width:47px;height:13px;background:#88d6b8"></div>
<div class="dt" style="left:402px;top:565px;width:47px;height:13px;line-height:13px;color:#16525a">338</div>
<div class="dc" style="left:449px;top:564px;width:47px;height:13px;background:#d0e8fa"></div>
<div class="dt" style="left:449px;top:565px;width:47px;height:13px;line-height:13px;color:#2a303e">386</div>
<div class="dc" style="left:496px;top:564px;width:48px;height:13px;background:#d0e8fa"></div>
<div class="dt" style="left:496px;top:565px;width:48px;height:13px;line-height:13px;color:#2a303e">389</div>
<div class="dc" style="left:544px;top:564px;width:47px;height:13px;background:#d0e8fa"></div>
<div class="dt" style="left:544px;top:565px;width:47px;height:13px;line-height:13px;color:#2a303e">387</div>
<div class="dc" style="left:591px;top:564px;width:47px;height:13px;background:#78d0a8"></div>
<div class="dt" style="left:591px;top:565px;width:47px;height:13px;line-height:13px;color:#15555a">325</div>
<div class="dc" style="left:638px;top:564px;width:47px;height:13px;background:#78d0a8"></div>
<div class="dt" style="left:638px;top:565px;width:47px;height:13px;line-height:13px;color:#15555a">329</div>
<div class="dc" style="left:685px;top:564px;width:48px;height:13px;background:#f5a3c3"></div>
<div class="dt" style="left:685px;top:565px;width:48px;height:13px;line-height:13px;color:#5e2262">554</div>
<div class="dc" style="left:402px;top:577px;width:47px;height:12px;background:#88d6b8"></div>
<div class="dt" style="left:402px;top:578px;width:47px;height:12px;line-height:12px;color:#16525a">338</div>
<div class="dc" style="left:449px;top:577px;width:47px;height:12px;background:#d0e8fa"></div>
<div class="dt" style="left:449px;top:578px;width:47px;height:12px;line-height:12px;color:#2a303e">386</div>
<div class="dc" style="left:496px;top:577px;width:48px;height:12px;background:#d0e8fa"></div>
<div class="dt" style="left:496px;top:578px;width:48px;height:12px;line-height:12px;color:#2a303e">389</div>
<div class="dc" style="left:544px;top:577px;width:47px;height:12px;background:#d0e8fa"></div>
<div class="dt" style="left:544px;top:578px;width:47px;height:12px;line-height:12px;color:#2a303e">386</div>
<div class="dc" style="left:591px;top:577px;width:47px;height:12px;background:#78d0a8"></div>
<div class="dt" style="left:591px;top:578px;width:47px;height:12px;line-height:12px;color:#15555a">324</div>
<div class="dc" style="left:638px;top:577px;width:47px;height:12px;background:#78d0a8"></div>
<div class="dt" style="left:638px;top:578px;width:47px;height:12px;line-height:12px;color:#15555a">329</div>
<div class="dc" style="left:685px;top:577px;width:48px;height:12px;background:#f5a3c3"></div>
<div class="dt" style="left:685px;top:578px;width:48px;height:12px;line-height:12px;color:#5e2262">554</div>
<div class="dc" style="left:402px;top:589px;width:47px;height:13px;background:#88d6b8"></div>
<div class="dt" style="left:402px;top:590px;width:47px;height:13px;line-height:13px;color:#16525a">338</div>
<div class="dc" style="left:449px;top:589px;width:47px;height:13px;background:#d0e8fa"></div>
<div class="dt" style="left:449px;top:590px;width:47px;height:13px;line-height:13px;color:#2a303e">385</div>
<div class="dc" style="left:496px;top:589px;width:48px;height:13px;background:#d0e8fa"></div>
<div class="dt" style="left:496px;top:590px;width:48px;height:13px;line-height:13px;color:#2a303e">389</div>
<div class="dc" style="left:544px;top:589px;width:47px;height:13px;background:#d0e8fa"></div>
<div class="dt" style="left:544px;top:590px;width:47px;height:13px;line-height:13px;color:#2a303e">386</div>
<div class="dc" style="left:591px;top:589px;width:47px;height:13px;background:#78d0a8"></div>
<div class="dt" style="left:591px;top:590px;width:47px;height:13px;line-height:13px;color:#15555a">324</div>
<div class="dc" style="left:638px;top:589px;width:47px;height:13px;background:#78d0a8"></div>
<div class="dt" style="left:638px;top:590px;width:47px;height:13px;line-height:13px;color:#15555a">328</div>
<div class="dc" style="left:685px;top:589px;width:48px;height:13px;background:#f5a3c3"></div>
<div class="dt" style="left:685px;top:590px;width:48px;height:13px;line-height:13px;color:#5e2262">554</div>
<div class="dc" style="left:402px;top:602px;width:47px;height:13px;background:#88d6b8"></div>
<div class="dt" style="left:402px;top:603px;width:47px;height:13px;line-height:13px;color:#16525a">337</div>
<div class="dc" style="left:449px;top:602px;width:47px;height:13px;background:#d0e8fa"></div>
<div class="dt" style="left:449px;top:603px;width:47px;height:13px;line-height:13px;color:#2a303e">385</div>
<div class="dc" style="left:496px;top:602px;width:48px;height:13px;background:#d0e8fa"></div>
<div class="dt" style="left:496px;top:603px;width:48px;height:13px;line-height:13px;color:#2a303e">389</div>
<div class="dc" style="left:544px;top:602px;width:47px;height:13px;background:#d0e8fa"></div>
<div class="dt" style="left:544px;top:603px;width:47px;height:13px;line-height:13px;color:#2a303e">386</div>
<div class="dc" style="left:591px;top:602px;width:47px;height:13px;background:#78d0a8"></div>
<div class="dt" style="left:591px;top:603px;width:47px;height:13px;line-height:13px;color:#15555a">324</div>
<div class="dc" style="left:638px;top:602px;width:47px;height:13px;background:#78d0a8"></div>
<div class="dt" style="left:638px;top:603px;width:47px;height:13px;line-height:13px;color:#15555a">328</div>
<div class="dc" style="left:685px;top:602px;width:48px;height:13px;background:#f5a3c3"></div>
<div class="dt" style="left:685px;top:603px;width:48px;height:13px;line-height:13px;color:#5e2262">553</div>
<div class="dc" style="left:402px;top:615px;width:47px;height:13px;background:#88d6b8"></div>
<div class="dt" style="left:402px;top:616px;width:47px;height:13px;line-height:13px;color:#16525a">337</div>
<div class="dc" style="left:449px;top:615px;width:47px;height:13px;background:#d0e8fa"></div>
<div class="dt" style="left:449px;top:616px;width:47px;height:13px;line-height:13px;color:#2a303e">385</div>
<div class="dc" style="left:496px;top:615px;width:48px;height:13px;background:#d0e8fa"></div>
<div class="dt" style="left:496px;top:616px;width:48px;height:13px;line-height:13px;color:#2a303e">388</div>
<div class="dc" style="left:544px;top:615px;width:47px;height:13px;background:#d0e8fa"></div>
<div class="dt" style="left:544px;top:616px;width:47px;height:13px;line-height:13px;color:#2a303e">385</div>
<div class="dc" style="left:591px;top:615px;width:47px;height:13px;background:#78d0a8"></div>
<div class="dt" style="left:591px;top:616px;width:47px;height:13px;line-height:13px;color:#15555a">324</div>
<div class="dc" style="left:638px;top:615px;width:47px;height:13px;background:#78d0a8"></div>
<div class="dt" style="left:638px;top:616px;width:47px;height:13px;line-height:13px;color:#15555a">328</div>
<div class="dc" style="left:685px;top:615px;width:48px;height:13px;background:#f5a3c3"></div>
<div class="dt" style="left:685px;top:616px;width:48px;height:13px;line-height:13px;color:#5e2262">553</div>
<div class="dc" style="left:402px;top:628px;width:47px;height:13px;background:#88d6b8"></div>
<div class="dt" style="left:402px;top:629px;width:47px;height:13px;line-height:13px;color:#16525a">337</div>
<div class="dc" style="left:449px;top:628px;width:47px;height:13px;background:#d0e8fa"></div>
<div class="dt" style="left:449px;top:629px;width:47px;height:13px;line-height:13px;color:#2a303e">385</div>
<div class="dc" style="left:496px;top:628px;width:48px;height:13px;background:#d0e8fa"></div>
<div class="dt" style="left:496px;top:629px;width:48px;height:13px;line-height:13px;color:#2a303e">385</div>
<div class="dc" style="left:544px;top:628px;width:47px;height:13px;background:#d0e8fa"></div>
<div class="dt" style="left:544px;top:629px;width:47px;height:13px;line-height:13px;color:#2a303e">382</div>
<div class="dc" style="left:591px;top:628px;width:47px;height:13px;background:#78d0a8"></div>
<div class="dt" style="left:591px;top:629px;width:47px;height:13px;line-height:13px;color:#15555a">322</div>
<div class="dc" style="left:638px;top:628px;width:47px;height:13px;background:#78d0a8"></div>
<div class="dt" style="left:638px;top:629px;width:47px;height:13px;line-height:13px;color:#15555a">328</div>
<div class="dc" style="left:685px;top:628px;width:48px;height:13px;background:#f5a3c3"></div>
<div class="dt" style="left:685px;top:629px;width:48px;height:13px;line-height:13px;color:#5e2262">552</div>
<div class="dc" style="left:402px;top:641px;width:47px;height:12px;background:#88d6b8"></div>
<div class="dt" style="left:402px;top:642px;width:47px;height:12px;line-height:12px;color:#16525a">336</div>
<div class="dc" style="left:449px;top:641px;width:47px;height:12px;background:#d0e8fa"></div>
<div class="dt" style="left:449px;top:642px;width:47px;height:12px;line-height:12px;color:#2a303e">384</div>
<div class="dc" style="left:496px;top:641px;width:48px;height:12px;background:#d0e8fa"></div>
<div class="dt" style="left:496px;top:642px;width:48px;height:12px;line-height:12px;color:#2a303e">382</div>
<div class="dc" style="left:544px;top:641px;width:47px;height:12px;background:#d0e8fa"></div>
<div class="dt" style="left:544px;top:642px;width:47px;height:12px;line-height:12px;color:#2a303e">379</div>
<div class="dc" style="left:591px;top:641px;width:47px;height:12px;background:#78d0a8"></div>
<div class="dt" style="left:591px;top:642px;width:47px;height:12px;line-height:12px;color:#15555a">320</div>
<div class="dc" style="left:638px;top:641px;width:47px;height:12px;background:#78d0a8"></div>
<div class="dt" style="left:638px;top:642px;width:47px;height:12px;line-height:12px;color:#15555a">327</div>
<div class="dc" style="left:685px;top:641px;width:48px;height:12px;background:#f5a3c3"></div>
<div class="dt" style="left:685px;top:642px;width:48px;height:12px;line-height:12px;color:#5e2262">551</div>
<div class="dc" style="left:402px;top:653px;width:47px;height:13px;background:#88d6b8"></div>
<div class="dt" style="left:402px;top:654px;width:47px;height:13px;line-height:13px;color:#16525a">336</div>
<div class="dc" style="left:449px;top:653px;width:47px;height:13px;background:#d0e8fa"></div>
<div class="dt" style="left:449px;top:654px;width:47px;height:13px;line-height:13px;color:#2a303e">384</div>
<div class="dc" style="left:496px;top:653px;width:48px;height:13px;background:#d0e8fa"></div>
<div class="dt" style="left:496px;top:654px;width:48px;height:13px;line-height:13px;color:#2a303e">381</div>
<div class="dc" style="left:544px;top:653px;width:47px;height:13px;background:#d0e8fa"></div>
<div class="dt" style="left:544px;top:654px;width:47px;height:13px;line-height:13px;color:#2a303e">378</div>
<div class="dc" style="left:591px;top:653px;width:47px;height:13px;background:#78d0a8"></div>
<div class="dt" style="left:591px;top:654px;width:47px;height:13px;line-height:13px;color:#15555a">319</div>
<div class="dc" style="left:638px;top:653px;width:47px;height:13px;background:#78d0a8"></div>
<div class="dt" style="left:638px;top:654px;width:47px;height:13px;line-height:13px;color:#15555a">325</div>
<div class="dc" style="left:685px;top:653px;width:48px;height:13px;background:#f5a3c3"></div>
<div class="dt" style="left:685px;top:654px;width:48px;height:13px;line-height:13px;color:#5e2262">549</div>
<div class="dc" style="left:402px;top:666px;width:47px;height:13px;background:#88d6b8"></div>
<div class="dt" style="left:402px;top:667px;width:47px;height:13px;line-height:13px;color:#16525a">336</div>
<div class="dc" style="left:449px;top:666px;width:47px;height:13px;background:#d0e8fa"></div>
<div class="dt" style="left:449px;top:667px;width:47px;height:13px;line-height:13px;color:#2a303e">384</div>
<div class="dc" style="left:496px;top:666px;width:48px;height:13px;background:#d0e8fa"></div>
<div class="dt" style="left:496px;top:667px;width:48px;height:13px;line-height:13px;color:#2a303e">380</div>
<div class="dc" style="left:544px;top:666px;width:47px;height:13px;background:#d0e8fa"></div>
<div class="dt" style="left:544px;top:667px;width:47px;height:13px;line-height:13px;color:#2a303e">377</div>
<div class="dc" style="left:591px;top:666px;width:47px;height:13px;background:#78d0a8"></div>
<div class="dt" style="left:591px;top:667px;width:47px;height:13px;line-height:13px;color:#15555a">318</div>
<div class="dc" style="left:638px;top:666px;width:47px;height:13px;background:#78d0a8"></div>
<div class="dt" style="left:638px;top:667px;width:47px;height:13px;line-height:13px;color:#15555a">325</div>
<div class="dc" style="left:685px;top:666px;width:48px;height:13px;background:#f5a3c3"></div>
<div class="dt" style="left:685px;top:667px;width:48px;height:13px;line-height:13px;color:#5e2262">549</div>
<div class="dc" style="left:402px;top:679px;width:47px;height:13px;background:#d2e8fc"></div>
<div class="dt" style="left:402px;top:680px;width:47px;height:13px;line-height:13px;color:#4a5264">-</div>
<div class="dc" style="left:449px;top:679px;width:47px;height:13px;background:#d2e8fc"></div>
<div class="dt" style="left:449px;top:680px;width:47px;height:13px;line-height:13px;color:#4a5264">-</div>
<div class="dc" style="left:496px;top:679px;width:48px;height:13px;background:#d2e8fc"></div>
<div class="dt" style="left:496px;top:680px;width:48px;height:13px;line-height:13px;color:#4a5264">-</div>
<div class="dc" style="left:544px;top:679px;width:47px;height:13px;background:#d2e8fc"></div>
<div class="dt" style="left:544px;top:680px;width:47px;height:13px;line-height:13px;color:#4a5264">-</div>
<div class="dc" style="left:591px;top:679px;width:47px;height:13px;background:#d2e8fc"></div>
<div class="dt" style="left:591px;top:680px;width:47px;height:13px;line-height:13px;color:#4a5264">-</div>
<div class="dc" style="left:638px;top:679px;width:47px;height:13px;background:#d2e8fc"></div>
<div class="dt" style="left:638px;top:680px;width:47px;height:13px;line-height:13px;color:#4a5264">-</div>
<div class="dc" style="left:685px;top:679px;width:48px;height:13px;background:#d2e8fc"></div>
<div class="dt" style="left:685px;top:680px;width:48px;height:13px;line-height:13px;color:#4a5264">-</div>
<div class="dc" style="left:402px;top:692px;width:47px;height:13px;background:#d2e8fc"></div>
<div class="dt" style="left:402px;top:693px;width:47px;height:13px;line-height:13px;color:#4a5264">-</div>
<div class="dc" style="left:449px;top:692px;width:47px;height:13px;background:#d2e8fc"></div>
<div class="dt" style="left:449px;top:693px;width:47px;height:13px;line-height:13px;color:#4a5264">-</div>
<div class="dc" style="left:496px;top:692px;width:48px;height:13px;background:#d2e8fc"></div>
<div class="dt" style="left:496px;top:693px;width:48px;height:13px;line-height:13px;color:#4a5264">-</div>
<div class="dc" style="left:544px;top:692px;width:47px;height:13px;background:#d2e8fc"></div>
<div class="dt" style="left:544px;top:693px;width:47px;height:13px;line-height:13px;color:#4a5264">-</div>
<div class="dc" style="left:591px;top:692px;width:47px;height:13px;background:#d2e8fc"></div>
<div class="dt" style="left:591px;top:693px;width:47px;height:13px;line-height:13px;color:#4a5264">-</div>
<div class="dc" style="left:638px;top:692px;width:47px;height:13px;background:#d2e8fc"></div>
<div class="dt" style="left:638px;top:693px;width:47px;height:13px;line-height:13px;color:#4a5264">-</div>
<div class="dc" style="left:685px;top:692px;width:48px;height:13px;background:#d2e8fc"></div>
<div class="dt" style="left:685px;top:693px;width:48px;height:13px;line-height:13px;color:#4a5264">-</div>
<div class="dhl" style="left:402px;top:129px;width:331px"></div>
<div class="dhl" style="left:402px;top:141px;width:331px"></div>
<div class="dhl" style="left:402px;top:154px;width:331px"></div>
<div class="dhl" style="left:402px;top:167px;width:331px"></div>
<div class="dhl" style="left:402px;top:180px;width:331px"></div>
<div class="dhl" style="left:402px;top:193px;width:331px"></div>
<div class="dhl" style="left:402px;top:205px;width:331px"></div>
<div class="dhl" style="left:402px;top:218px;width:331px"></div>
<div class="dhl" style="left:402px;top:231px;width:331px"></div>
<div class="dhl" style="left:402px;top:244px;width:331px"></div>
<div class="dhl" style="left:402px;top:257px;width:331px"></div>
<div class="dhl" style="left:402px;top:269px;width:331px"></div>
<div class="dhl" style="left:402px;top:282px;width:331px"></div>
<div class="dhl" style="left:402px;top:295px;width:331px"></div>
<div class="dhl" style="left:402px;top:308px;width:331px"></div>
<div class="dhl" style="left:402px;top:321px;width:331px"></div>
<div class="dhl" style="left:402px;top:333px;width:331px"></div>
<div class="dhl" style="left:402px;top:346px;width:331px"></div>
<div class="dhl" style="left:402px;top:359px;width:331px"></div>
<div class="dhl" style="left:402px;top:372px;width:331px"></div>
<div class="dhl" style="left:402px;top:385px;width:331px"></div>
<div class="dhl" style="left:402px;top:397px;width:331px"></div>
<div class="dhl" style="left:402px;top:410px;width:331px"></div>
<div class="dhl" style="left:402px;top:423px;width:331px"></div>
<div class="dhl" style="left:402px;top:436px;width:331px"></div>
<div class="dhl" style="left:402px;top:449px;width:331px"></div>
<div class="dhl" style="left:402px;top:461px;width:331px"></div>
<div class="dhl" style="left:402px;top:474px;width:331px"></div>
<div class="dhl" style="left:402px;top:487px;width:331px"></div>
<div class="dhl" style="left:402px;top:500px;width:331px"></div>
<div class="dhl" style="left:402px;top:513px;width:331px"></div>
<div class="dhl" style="left:402px;top:525px;width:331px"></div>
<div class="dhl" style="left:402px;top:538px;width:331px"></div>
<div class="dhl" style="left:402px;top:551px;width:331px"></div>
<div class="dhl" style="left:402px;top:564px;width:331px"></div>
<div class="dhl" style="left:402px;top:577px;width:331px"></div>
<div class="dhl" style="left:402px;top:589px;width:331px"></div>
<div class="dhl" style="left:402px;top:602px;width:331px"></div>
<div class="dhl" style="left:402px;top:615px;width:331px"></div>
<div class="dhl" style="left:402px;top:628px;width:331px"></div>
<div class="dhl" style="left:402px;top:641px;width:331px"></div>
<div class="dhl" style="left:402px;top:653px;width:331px"></div>
<div class="dhl" style="left:402px;top:666px;width:331px"></div>
<div class="dhl" style="left:402px;top:679px;width:331px"></div>
<div class="dhl" style="left:402px;top:692px;width:331px"></div>
<div class="dvl" style="left:449px;top:116px;height:589px"></div>
<div class="dvl" style="left:496px;top:116px;height:589px"></div>
<div class="dvl" style="left:544px;top:116px;height:589px"></div>
<div class="dvl" style="left:591px;top:116px;height:589px"></div>
<div class="dvl" style="left:638px;top:116px;height:589px"></div>
<div class="dvl" style="left:685px;top:116px;height:589px"></div>
<div class="av1" style="left:402px;top:710px;width:47px">342万</div>
<div class="av2" style="left:392px;top:721.3px;width:67px">45052元<span class="m3">/<b>m</b><i>²</i></span></div>
<div class="av1" style="left:449px;top:710px;width:47px">390万</div>
<div class="av2" style="left:439px;top:721.3px;width:67px">45166元<span class="m3">/<b>m</b><i>²</i></span></div>
<div class="av1" style="left:496px;top:710px;width:48px">393万</div>
<div class="av2" style="left:486px;top:721.3px;width:68px">45560元<span class="m3">/<b>m</b><i>²</i></span></div>
<div class="av1" style="left:544px;top:710px;width:47px">390万</div>
<div class="av2" style="left:534px;top:721.3px;width:67px">45218元<span class="m3">/<b>m</b><i>²</i></span></div>
<div class="av1" style="left:591px;top:710px;width:47px">328万</div>
<div class="av2" style="left:581px;top:721.3px;width:67px">43300元<span class="m3">/<b>m</b><i>²</i></span></div>
<div class="av1" style="left:638px;top:710px;width:47px">333万</div>
<div class="av2" style="left:628px;top:721.3px;width:67px">43897元<span class="m3">/<b>m</b><i>²</i></span></div>
<div class="av1" style="left:685px;top:710px;width:48px">560万</div>
<div class="av2" style="left:675px;top:721.3px;width:68px">49850元<span class="m3">/<b>m</b><i>²</i></span></div>
<div class="avl" style="left:361px;top:715.5px">均价</div>
<div class="note" style="left:20.3px;top:751.5px">*<span style="display:inline-block;width:2.5px"></span>根据深圳市房地产信息平台公开数据整理制作<span class="cm" style="width:13px">,</span>实际销售价以房企为准</div>
<div class="note" style="left:20.3px;top:763.6px">*<span style="display:inline-block;width:2.5px"></span>价格梯度分布用不同颜色表示<span class="cm" style="width:11px">,</span>颜色越红越贵<span class="cm" style="width:11px">,</span>越绿越便宜</div>
<div class="tx" style="left:559.5px;top:767.8px;font-size:15px;transform:scale(0.977);color:#f0f2f8">搜狐号@搜狐焦点永州站</div>
</body></html>
